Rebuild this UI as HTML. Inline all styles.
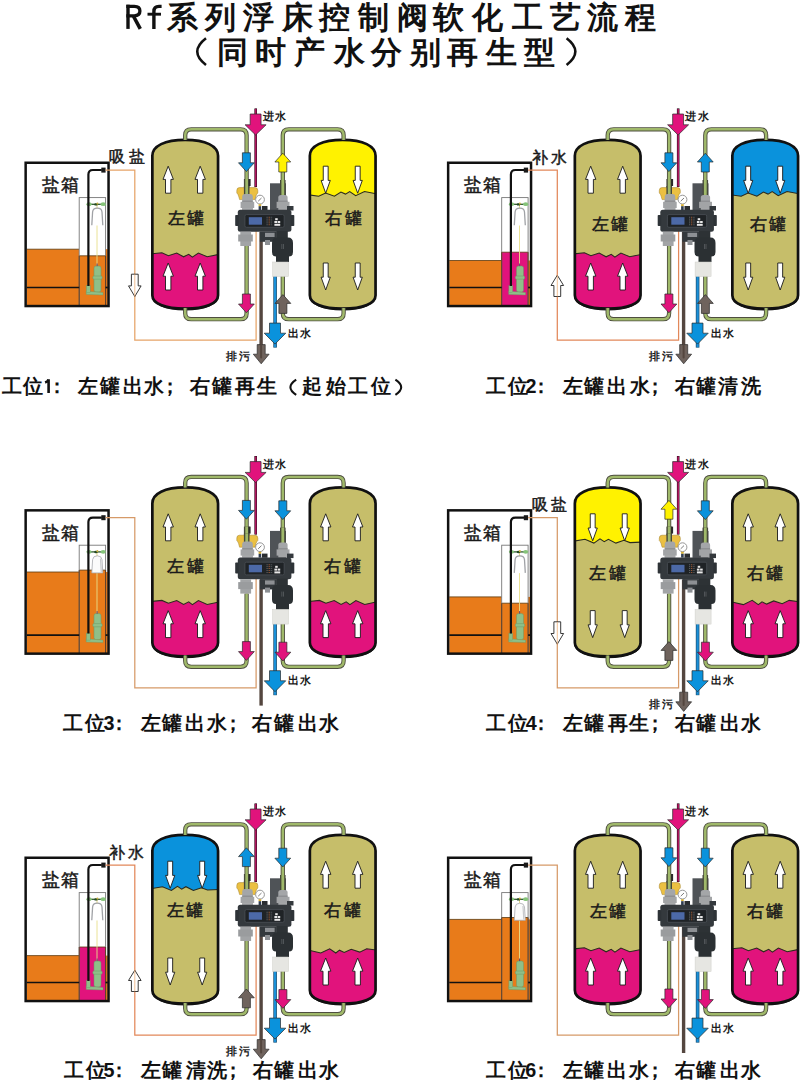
<!DOCTYPE html><html><head><meta charset="utf-8"><style>html,body{margin:0;padding:0;background:#fff;width:800px;height:1080px;overflow:hidden}svg{display:block}</style></head><body><svg width="800" height="1080" viewBox="0 0 800 1080">
<rect width="800" height="1080" fill="#fff"/>
<g fill="none" stroke="#111">
<path d="M128,4.7 V28.9" stroke-width="3.4"/>
<path d="M126.3,6.35 H134.3 Q139.9,6.35 139.9,11.1 Q139.9,15.8 134.3,15.8 H126.3" stroke-width="3.3"/>
<path d="M133.6,16.5 L140.3,28.9" stroke-width="3.6"/>
<path d="M153.9,28.9 V11.5 Q153.9,6.4 159,6.4 H161.6" stroke-width="3.4"/>
<path d="M147.5,14.2 H161" stroke-width="2.9"/>
</g>
<text x="166.66 204.78 242.66 281.56 319.37 358.12 397.30 433.46 472.46 512.00 549.75 587.25 625.12" y="27.8" style="font-family:'Liberation Sans',sans-serif;font-size:31px;font-weight:bold" fill="#111" >系列浮床控制阀软化工艺流程</text>
<text x="216.58 254.70 293.90 333.62 371.46 409.62 447.00 485.62 523.75" y="62.8" style="font-family:'Liberation Sans',sans-serif;font-size:31px;font-weight:bold" fill="#111" >同时产水分别再生型</text>
<path d="M206,38.2 Q188.5,51.6 206,65" fill="none" stroke="#111" stroke-width="2.6"/>
<path d="M566.6,38.2 Q584.1,51.6 566.6,65" fill="none" stroke="#111" stroke-width="2.6"/>
<g transform="translate(0,0)">
<rect x="26.8" y="163.9" width="80.6" height="141.9" fill="#fff"/>
<rect x="26.8" y="249.2" width="52.2" height="56.60000000000002" fill="#e87b1a"/>
<rect x="105.6" y="249.2" width="2.2" height="56.60000000000002" fill="#e87b1a"/>
<rect x="79.2" y="255.8" width="26.4" height="50.0" fill="#e87b1a"/>
<line x1="26.8" y1="249.2" x2="79" y2="249.2" stroke="#5a3a10" stroke-width="0.8"/>
<line x1="79.2" y1="255.8" x2="105.6" y2="255.8" stroke="#5a3a10" stroke-width="0.8"/>
<rect x="79.2" y="197.6" width="26.4" height="108.2" fill="none" stroke="#777" stroke-width="0.9"/>
<path d="M79.2,255.8 V305.8 M105.6,255.8 V305.8" stroke="#5a3418" stroke-width="0.9"/>
<line x1="26.8" y1="287.5" x2="79.2" y2="287.5" stroke="#111" stroke-width="1.7"/>
<line x1="105.6" y1="287.5" x2="107.8" y2="287.5" stroke="#111" stroke-width="1.7"/>
<line x1="97" y1="205" x2="97" y2="208.6" stroke="#e0d27a" stroke-width="0.9"/>
<line x1="97" y1="225.5" x2="97" y2="266" stroke="#e8df8a" stroke-width="0.9"/>
<path d="M91.8,225.3 L92.6,212 Q93,208.2 97.3,208.2 Q101.6,208.2 102,212 L102.8,225.3" fill="none" stroke="#a0a2a6" stroke-width="1.3"/>
<line x1="88" y1="204.3" x2="104.5" y2="204.3" stroke="#2f5a2c" stroke-width="1.3"/>
<ellipse cx="89.0" cy="204.2" rx="2.6" ry="1.9" fill="#86c47a"/>
<ellipse cx="103.2" cy="204.2" rx="2.6" ry="1.9" fill="#86c47a"/>
<ellipse cx="96" cy="204.4" rx="1.8" ry="1.2" fill="#244a22"/>
<ellipse cx="97.4" cy="203.6" rx="1" ry="1.1" fill="#c8b040"/>
<rect x="94" y="266" width="7" height="26" rx="2" fill="#8fbf88" stroke="#6a9a66" stroke-width="0.5"/>
<rect x="92.8" y="276" width="9.4" height="3.2" rx="1.2" fill="#8fbf88" stroke="#6a9a66" stroke-width="0.5"/>
<polygon points="86.2,291.2 103,292.5 103,295 86.2,294.4" fill="#8fbf88" stroke="#6a9a66" stroke-width="0.4"/>
<rect x="86.4" y="285.5" width="3.8" height="7" fill="#8fbf88" stroke="#6a9a66" stroke-width="0.4"/>
<rect x="96.6" y="263.5" width="1" height="2.6" fill="#604070"/>
<path d="M88.4,286 V174.5 Q88.4,170 92.9,170 H101.8" fill="none" stroke="#111" stroke-width="2.2"/>
<rect x="101.3" y="167.6" width="4.3" height="5" fill="#1a1a1a"/>
<rect x="25.65" y="162.75" width="82.9" height="143.3" fill="none" stroke="#111" stroke-width="2.5"/>
<text x="41.55 60.90" y="191.2" style="font-family:'Liberation Sans',sans-serif;font-size:17.5px;font-weight:normal" fill="#1a1a1a" stroke="#1a1a1a" stroke-width="0.5">盐箱</text>
<text x="109.28 128.68" y="162.4" style="font-family:'Liberation Sans',sans-serif;font-size:16px;font-weight:normal" fill="#1a1a1a" stroke="#1a1a1a" stroke-width="0.5">吸盐</text>
<path d="M105.6,170 H134.8 V340.2 H256.1 V231" fill="none" stroke="#e6a468" stroke-width="1.25"/>
<polygon points="134.80,296.50 141.10,285.90 138.20,285.90 138.20,274.20 131.40,274.20 131.40,285.90 128.50,285.90" fill="#fff" stroke="#222" stroke-width="0.9"/>
<line x1="134.8" y1="274.5" x2="134.8" y2="296.5" stroke="#eeb07a" stroke-width="0.8"/>
<clipPath id="c0a"><path d="M152.35,155.85 C152.35,145.93 164.83299999999997,139.85 185.2,139.85 C205.567,139.85 218.05,145.93 218.05,155.85 L218.05,295.15 C218.05,303.52 205.567,308.65 185.2,308.65 C164.83299999999997,308.65 152.35,303.52 152.35,295.15 Z"/></clipPath>
<g clip-path="url(#c0a)">
<rect x="149.0" y="134.85" width="72.4" height="178.79999999999998" fill="#e1137c"/>
<polygon points="149.0,134.85 221.4,134.85 221.4,254.30 219.40,254.30 207.20,256.80 198.40,253.00 192.40,257.10 188.70,254.30 183.60,256.80 176.70,253.00 168.40,255.70 161.90,252.80 151.00,253.90 149.0,253.90" fill="#c6be6a"/>
<polyline points="151.00,253.90 161.90,252.80 168.40,255.70 176.70,253.00 183.60,256.80 188.70,254.30 192.40,257.10 198.40,253.00 207.20,256.80 219.40,254.30" fill="none" stroke="#2a2a1e" stroke-width="1.05"/>
</g>
<path d="M152.35,155.85 C152.35,145.93 164.83299999999997,139.85 185.2,139.85 C205.567,139.85 218.05,145.93 218.05,155.85 L218.05,295.15 C218.05,303.52 205.567,308.65 185.2,308.65 C164.83299999999997,308.65 152.35,303.52 152.35,295.15 Z" fill="none" stroke="#111" stroke-width="2.7"/>
<path d="M218.05,295.15 C218.05,303.52 205.567,309.25 185.2,309.25 C164.83299999999997,309.25 152.35,303.52 152.35,295.15" fill="none" stroke="#111" stroke-width="1.2" transform="translate(0,0.7)"/>
<polygon points="168.20,166.20 173.40,179.40 170.90,179.40 170.90,193.20 165.50,193.20 165.50,179.40 163.00,179.40" fill="#fff" stroke="#1a1a1a" stroke-width="0.9" stroke-linejoin="miter"/>
<polygon points="200.20,166.20 205.40,179.40 202.90,179.40 202.90,193.20 197.50,193.20 197.50,179.40 195.00,179.40" fill="#fff" stroke="#1a1a1a" stroke-width="0.9" stroke-linejoin="miter"/>
<polygon points="168.20,263.00 173.40,276.20 170.90,276.20 170.90,290.00 165.50,290.00 165.50,276.20 163.00,276.20" fill="#fff" stroke="#1a1a1a" stroke-width="0.9" stroke-linejoin="miter"/>
<polygon points="200.20,263.00 205.40,276.20 202.90,276.20 202.90,290.00 197.50,290.00 197.50,276.20 195.00,276.20" fill="#fff" stroke="#1a1a1a" stroke-width="0.9" stroke-linejoin="miter"/>
<text x="167.73 187.12" y="224.45" style="font-family:'Liberation Sans',sans-serif;font-size:16.9px;font-weight:normal" fill="#1a1a1a" stroke="#1a1a1a" stroke-width="0.5">左罐</text>
<clipPath id="c0b"><path d="M309.85,155.85 C309.85,145.93 322.333,139.85 342.7,139.85 C363.06699999999995,139.85 375.54999999999995,145.93 375.54999999999995,155.85 L375.54999999999995,295.15 C375.54999999999995,303.52 363.06699999999995,308.65 342.7,308.65 C322.333,308.65 309.85,303.52 309.85,295.15 Z"/></clipPath>
<g clip-path="url(#c0b)">
<rect x="306.5" y="134.85" width="72.39999999999998" height="178.79999999999998" fill="#c6be6a"/>
<polygon points="306.5,134.85 378.9,134.85 378.9,193.90 376.90,193.90 364.50,191.60 355.70,195.70 349.70,191.60 345.50,194.10 340.90,192.00 334.40,196.20 325.60,193.00 318.70,196.20 308.50,194.80 306.5,194.80" fill="#fff200"/>
<polyline points="308.50,194.80 318.70,196.20 325.60,193.00 334.40,196.20 340.90,192.00 345.50,194.10 349.70,191.60 355.70,195.70 364.50,191.60 376.90,193.90" fill="none" stroke="#2a2a1e" stroke-width="1.05"/>
</g>
<path d="M309.85,155.85 C309.85,145.93 322.333,139.85 342.7,139.85 C363.06699999999995,139.85 375.54999999999995,145.93 375.54999999999995,155.85 L375.54999999999995,295.15 C375.54999999999995,303.52 363.06699999999995,308.65 342.7,308.65 C322.333,308.65 309.85,303.52 309.85,295.15 Z" fill="none" stroke="#111" stroke-width="2.7"/>
<path d="M375.54999999999995,295.15 C375.54999999999995,303.52 363.06699999999995,309.25 342.7,309.25 C322.333,309.25 309.85,303.52 309.85,295.15" fill="none" stroke="#111" stroke-width="1.2" transform="translate(0,0.7)"/>
<polygon points="325.70,193.20 330.30,180.40 328.15,180.40 328.15,166.20 323.25,166.20 323.25,180.40 321.10,180.40" fill="#fff" stroke="#1a1a1a" stroke-width="0.9" stroke-linejoin="miter"/>
<polygon points="357.70,193.20 362.30,180.40 360.15,180.40 360.15,166.20 355.25,166.20 355.25,180.40 353.10,180.40" fill="#fff" stroke="#1a1a1a" stroke-width="0.9" stroke-linejoin="miter"/>
<polygon points="325.70,290.00 330.30,277.20 328.15,277.20 328.15,263.00 323.25,263.00 323.25,277.20 321.10,277.20" fill="#fff" stroke="#1a1a1a" stroke-width="0.9" stroke-linejoin="miter"/>
<polygon points="357.70,290.00 362.30,277.20 360.15,277.20 360.15,263.00 355.25,263.00 355.25,277.20 353.10,277.20" fill="#fff" stroke="#1a1a1a" stroke-width="0.9" stroke-linejoin="miter"/>
<text x="325.05 344.52" y="224.45" style="font-family:'Liberation Sans',sans-serif;font-size:16.9px;font-weight:normal" fill="#1a1a1a" stroke="#1a1a1a" stroke-width="0.5">右罐</text>
<path d="M185.2,140 V135.3 Q185.2,129.3 191.2,129.3 H240.6 Q246.6,129.3 246.6,135.3 V194" fill="none" stroke="#4e4e40" stroke-width="4.3" stroke-linejoin="round"/>
<path d="M185.2,140 V135.3 Q185.2,129.3 191.2,129.3 H240.6 Q246.6,129.3 246.6,135.3 V194" fill="none" stroke="#a0b96a" stroke-width="2.5" stroke-linejoin="round"/>
<path d="M343.6,140 V135.3 Q343.6,129.3 337.6,129.3 H288.8 Q282.8,129.3 282.8,135.3 V196" fill="none" stroke="#4e4e40" stroke-width="4.3" stroke-linejoin="round"/>
<path d="M343.6,140 V135.3 Q343.6,129.3 337.6,129.3 H288.8 Q282.8,129.3 282.8,135.3 V196" fill="none" stroke="#a0b96a" stroke-width="2.5" stroke-linejoin="round"/>
<path d="M185.2,308 V313.2 Q185.2,319.2 191.2,319.2 H240.6 Q246.6,319.2 246.6,313.2 V246" fill="none" stroke="#4e4e40" stroke-width="4.3" stroke-linejoin="round"/>
<path d="M185.2,308 V313.2 Q185.2,319.2 191.2,319.2 H240.6 Q246.6,319.2 246.6,313.2 V246" fill="none" stroke="#a0b96a" stroke-width="2.5" stroke-linejoin="round"/>
<path d="M343.6,308 V313.2 Q343.6,319.2 337.6,319.2 H288.8 Q282.8,319.2 282.8,313.2 V276" fill="none" stroke="#4e4e40" stroke-width="4.3" stroke-linejoin="round"/>
<path d="M343.6,308 V313.2 Q343.6,319.2 337.6,319.2 H288.8 Q282.8,319.2 282.8,313.2 V276" fill="none" stroke="#a0b96a" stroke-width="2.5" stroke-linejoin="round"/>
<line x1="255.7" y1="108.4" x2="255.7" y2="187" stroke="#2a0a1a" stroke-width="2.6"/>
<line x1="255.7" y1="108.9" x2="255.7" y2="186.5" stroke="#b0175f" stroke-width="1.6"/>
<polygon points="255.60,135.00 266.10,124.80 261.05,124.80 261.05,114.00 250.15,114.00 250.15,124.80 245.10,124.80" fill="#e1137c" stroke="#2a2a2a" stroke-width="0.7"/>
<text x="262.56 275.22" y="120.3" style="font-family:'Liberation Sans',sans-serif;font-size:11px;font-weight:bold" fill="#1a1a1a" >进水</text>
<line x1="261.1" y1="232" x2="261.1" y2="345" stroke="#54463f" stroke-width="3.4"/>
<line x1="275.1" y1="276" x2="275.1" y2="347.6" stroke="#1d4f70" stroke-width="3.6"/>
<line x1="275.1" y1="276" x2="275.1" y2="347.2" stroke="#1a90d8" stroke-width="2.2"/>
<rect x="243.9" y="179" width="5.6" height="15" fill="#46483a"/>
<rect x="245.3" y="179" width="2.8" height="15" fill="#a0b96a"/>
<rect x="248.6" y="179" width="2" height="7" fill="#2a2a2a"/>
<rect x="270" y="183.3" width="16" height="27" fill="#4f5357"/>
<rect x="280" y="180" width="5.6" height="16" fill="#46483a"/>
<rect x="281.4" y="180" width="2.8" height="16" fill="#a0b96a"/>
<path d="M236.8,190.5 Q236.8,187.6 239.5,187.6 H255 Q257.8,187.6 257.8,190.5 V193 Q256.5,194 256,196 L255,199.6 H239.6 L238.6,196 Q238,194 236.8,193 Z" fill="#ebc042" stroke="#a07e28" stroke-width="0.5"/>
<rect x="243.9" y="186" width="5.6" height="9" fill="#46483a"/>
<rect x="245.3" y="186" width="2.8" height="9" fill="#a0b96a"/>
<path d="M242.2,210 V197 Q242.2,194 245,194 H250 Q252.8,194 252.8,197 V210 Z" fill="#a4a6a8"/>
<rect x="240.6" y="201.8" width="13.6" height="6.2" fill="#a2a4a6"/>
<rect x="242.2" y="200.6" width="10.6" height="1.2" fill="#8a8c8e"/>
<rect x="242.2" y="208" width="10.6" height="2" fill="#a8aaac"/>
<path d="M278.3,210 V197.5 Q278.3,195 281,195 H285 Q287.6,195 287.6,197.5 V210 Z" fill="#a4a6a8"/>
<rect x="276.6" y="201.8" width="12.9" height="6.2" fill="#a2a4a6"/>
<rect x="278.3" y="200.6" width="9.3" height="1.2" fill="#8a8c8e"/>
<circle cx="260" cy="199.6" r="4.4" fill="#fff" stroke="#8a8a8a" stroke-width="0.9"/>
<line x1="258.2" y1="201.2" x2="261.5" y2="198" stroke="#444" stroke-width="0.7"/>
<rect x="258.6" y="204.2" width="2.6" height="2" fill="#d8b030"/>
<rect x="258.6" y="206.2" width="2.6" height="3.8" fill="#2f3c50"/>
<rect x="262" y="206" width="5.5" height="4.2" fill="#2a2d30"/>
<rect x="287" y="206" width="6.5" height="4.5" fill="#34393d"/>
<rect x="237.8" y="209.8" width="53.6" height="21.9" rx="2.5" fill="#34393d"/>
<rect x="235.2" y="215" width="3.5" height="11" rx="0.8" fill="#2e3337"/>
<rect x="290.6" y="215" width="3.7" height="11" rx="0.8" fill="#2e3337"/>
<rect x="244.9" y="214.6" width="39.3" height="12.7" rx="1.5" fill="#1f2326" stroke="#474d52" stroke-width="0.9"/>
<rect x="248.8" y="217.2" width="13.2" height="7.5" fill="#4c69a7"/>
<rect x="266.5" y="216.80" width="1.2" height="0.8" fill="#6a6e72"/>
<rect x="268.6" y="216.80" width="1.2" height="0.8" fill="#c06a3a"/>
<rect x="270.6" y="216.80" width="1.6" height="0.8" fill="#5a5e62"/>
<rect x="266.5" y="218.70" width="1.2" height="0.8" fill="#6a6e72"/>
<rect x="268.6" y="218.70" width="1.2" height="0.8" fill="#c06a3a"/>
<rect x="270.6" y="218.70" width="1.6" height="0.8" fill="#5a5e62"/>
<rect x="266.5" y="220.60" width="1.2" height="0.8" fill="#6a6e72"/>
<rect x="268.6" y="220.60" width="1.2" height="0.8" fill="#c06a3a"/>
<rect x="270.6" y="220.60" width="1.6" height="0.8" fill="#5a5e62"/>
<rect x="266.5" y="222.50" width="1.2" height="0.8" fill="#6a6e72"/>
<rect x="268.6" y="222.50" width="1.2" height="0.8" fill="#c06a3a"/>
<rect x="270.6" y="222.50" width="1.6" height="0.8" fill="#5a5e62"/>
<rect x="266.5" y="224.40" width="1.2" height="0.8" fill="#6a6e72"/>
<rect x="268.6" y="224.40" width="1.2" height="0.8" fill="#c06a3a"/>
<rect x="270.6" y="224.40" width="1.6" height="0.8" fill="#5a5e62"/>
<rect x="275.2" y="218.2" width="2.5" height="2" fill="#e8e8e8"/>
<rect x="274.4" y="221" width="2.6" height="2" fill="#e8e8e8"/>
<rect x="277.6" y="221" width="2.6" height="2" fill="#e8e8e8"/>
<rect x="274.4" y="223.8" width="5.8" height="2" fill="#e8e8e8"/>
<rect x="240.3" y="231.7" width="10.8" height="14.3" fill="#a2a4a6"/>
<rect x="238.2" y="234.5" width="14.6" height="7" fill="#9a9c9e"/>
<rect x="259.9" y="231.5" width="17" height="10.3" fill="#33383c"/>
<rect x="276.5" y="231" width="11.3" height="8" fill="#2d3235"/>
<rect x="265" y="232.8" width="9.6" height="4.2" fill="#8d9094"/>
<rect x="265" y="240" width="5" height="5" fill="#8d9094"/>
<path d="M272,243 Q272,237.5 277,237.5 H288 Q293,237.5 293,243 V252 Q293,256.5 289,256.5 V262 H276 V256.5 Q272,256.5 272,252 Z" fill="#2b3033"/>
<rect x="281.6" y="244" width="0.6" height="5" fill="#6a6e72"/>
<rect x="283.2" y="244" width="0.6" height="5" fill="#6a6e72"/>
<rect x="272.6" y="262" width="16" height="14.5" fill="#e6e6e2" stroke="#cfcfca" stroke-width="0.5"/>
<polygon points="246.40,171.60 254.30,162.80 250.40,162.80 250.40,152.80 242.40,152.80 242.40,162.80 238.50,162.80" fill="#0a92dc" stroke="#2a2a2a" stroke-width="0.7"/>
<polygon points="282.80,153.20 290.70,162.00 286.80,162.00 286.80,172.00 278.80,172.00 278.80,162.00 274.90,162.00" fill="#fff200" stroke="#2a2a2a" stroke-width="0.7"/>
<polygon points="246.40,312.80 254.30,304.00 250.40,304.00 250.40,294.00 242.40,294.00 242.40,304.00 238.50,304.00" fill="#e1137c" stroke="#2a2a2a" stroke-width="0.7"/>
<polygon points="282.90,294.60 290.80,303.40 286.90,303.40 286.90,313.40 278.90,313.40 278.90,303.40 275.00,303.40" fill="#6f635d" stroke="#2a2a2a" stroke-width="0.7"/>
<polygon points="275.00,344.10 285.75,333.20 280.50,333.20 280.50,323.10 269.50,323.10 269.50,333.20 264.25,333.20" fill="#0a92dc" stroke="#2a2a2a" stroke-width="0.7"/>
<text x="288.11 300.22" y="336.9" style="font-family:'Liberation Sans',sans-serif;font-size:11px;font-weight:bold" fill="#1a1a1a" >出水</text>
<polygon points="261.20,363.80 269.10,354.20 265.20,354.20 265.20,344.60 257.20,344.60 257.20,354.20 253.30,354.20" fill="#6f635d" stroke="#2a2a2a" stroke-width="0.7"/>
<line x1="261.1" y1="345" x2="261.1" y2="357.5" stroke="#54463f" stroke-width="2" stroke-linecap="round"/>
<text x="226.28 239.06" y="360.0" style="font-family:'Liberation Sans',sans-serif;font-size:11px;font-weight:bold" fill="#1a1a1a" >排污</text>
</g>
<g transform="translate(422.5,0)">
<rect x="26.8" y="163.9" width="80.6" height="141.9" fill="#fff"/>
<rect x="26.8" y="260.5" width="52.2" height="45.30000000000001" fill="#e87b1a"/>
<rect x="105.6" y="260.5" width="2.2" height="45.30000000000001" fill="#e87b1a"/>
<rect x="79.2" y="252.2" width="26.4" height="53.60000000000002" fill="#e1137c"/>
<line x1="26.8" y1="260.5" x2="79" y2="260.5" stroke="#5a3a10" stroke-width="0.8"/>
<line x1="79.2" y1="252.2" x2="105.6" y2="252.2" stroke="#5a3a10" stroke-width="0.8"/>
<rect x="79.2" y="197.6" width="26.4" height="108.2" fill="none" stroke="#777" stroke-width="0.9"/>
<path d="M79.2,252.2 V305.8 M105.6,252.2 V305.8" stroke="#5a3418" stroke-width="0.9"/>
<line x1="26.8" y1="287.5" x2="79.2" y2="287.5" stroke="#111" stroke-width="1.7"/>
<line x1="105.6" y1="287.5" x2="107.8" y2="287.5" stroke="#111" stroke-width="1.7"/>
<line x1="97" y1="205" x2="97" y2="208.6" stroke="#e0d27a" stroke-width="0.9"/>
<line x1="97" y1="225.5" x2="97" y2="266" stroke="#e8df8a" stroke-width="0.9"/>
<path d="M91.8,225.3 L92.6,212 Q93,208.2 97.3,208.2 Q101.6,208.2 102,212 L102.8,225.3" fill="none" stroke="#a0a2a6" stroke-width="1.3"/>
<line x1="88" y1="204.3" x2="104.5" y2="204.3" stroke="#2f5a2c" stroke-width="1.3"/>
<ellipse cx="89.0" cy="204.2" rx="2.6" ry="1.9" fill="#86c47a"/>
<ellipse cx="103.2" cy="204.2" rx="2.6" ry="1.9" fill="#86c47a"/>
<ellipse cx="96" cy="204.4" rx="1.8" ry="1.2" fill="#244a22"/>
<ellipse cx="97.4" cy="203.6" rx="1" ry="1.1" fill="#c8b040"/>
<rect x="94" y="266" width="7" height="26" rx="2" fill="#8fbf88" stroke="#6a9a66" stroke-width="0.5"/>
<rect x="92.8" y="276" width="9.4" height="3.2" rx="1.2" fill="#8fbf88" stroke="#6a9a66" stroke-width="0.5"/>
<polygon points="86.2,291.2 103,292.5 103,295 86.2,294.4" fill="#8fbf88" stroke="#6a9a66" stroke-width="0.4"/>
<rect x="86.4" y="285.5" width="3.8" height="7" fill="#8fbf88" stroke="#6a9a66" stroke-width="0.4"/>
<rect x="96.6" y="263.5" width="1" height="2.6" fill="#604070"/>
<path d="M88.4,286 V174.5 Q88.4,170 92.9,170 H101.8" fill="none" stroke="#111" stroke-width="2.2"/>
<rect x="101.3" y="167.6" width="4.3" height="5" fill="#1a1a1a"/>
<rect x="25.65" y="162.75" width="82.9" height="143.3" fill="none" stroke="#111" stroke-width="2.5"/>
<text x="41.55 60.90" y="191.2" style="font-family:'Liberation Sans',sans-serif;font-size:17.5px;font-weight:normal" fill="#1a1a1a" stroke="#1a1a1a" stroke-width="0.5">盐箱</text>
<text x="109.46 128.26" y="162.8" style="font-family:'Liberation Sans',sans-serif;font-size:16px;font-weight:normal" fill="#1a1a1a" stroke="#1a1a1a" stroke-width="0.5">补水</text>
<path d="M105.6,170 H134.8 V340.2 H256.1 V231" fill="none" stroke="#e2885a" stroke-width="1.25"/>
<polygon points="134.80,275.20 141.10,285.50 138.20,285.50 138.20,296.50 131.40,296.50 131.40,285.50 128.50,285.50" fill="#fff" stroke="#222" stroke-width="0.9"/>
<line x1="134.8" y1="274.5" x2="134.8" y2="296.5" stroke="#eeb07a" stroke-width="0.8"/>
<clipPath id="c1a"><path d="M152.35,155.85 C152.35,145.93 164.83299999999997,139.85 185.2,139.85 C205.567,139.85 218.05,145.93 218.05,155.85 L218.05,295.15 C218.05,303.52 205.567,308.65 185.2,308.65 C164.83299999999997,308.65 152.35,303.52 152.35,295.15 Z"/></clipPath>
<g clip-path="url(#c1a)">
<rect x="149.0" y="134.85" width="72.4" height="178.79999999999998" fill="#e1137c"/>
<polygon points="149.0,134.85 221.4,134.85 221.4,254.30 219.40,254.30 207.20,256.80 198.40,253.00 192.40,257.10 188.70,254.30 183.60,256.80 176.70,253.00 168.40,255.70 161.90,252.80 151.00,253.90 149.0,253.90" fill="#c6be6a"/>
<polyline points="151.00,253.90 161.90,252.80 168.40,255.70 176.70,253.00 183.60,256.80 188.70,254.30 192.40,257.10 198.40,253.00 207.20,256.80 219.40,254.30" fill="none" stroke="#2a2a1e" stroke-width="1.05"/>
</g>
<path d="M152.35,155.85 C152.35,145.93 164.83299999999997,139.85 185.2,139.85 C205.567,139.85 218.05,145.93 218.05,155.85 L218.05,295.15 C218.05,303.52 205.567,308.65 185.2,308.65 C164.83299999999997,308.65 152.35,303.52 152.35,295.15 Z" fill="none" stroke="#111" stroke-width="2.7"/>
<path d="M218.05,295.15 C218.05,303.52 205.567,309.25 185.2,309.25 C164.83299999999997,309.25 152.35,303.52 152.35,295.15" fill="none" stroke="#111" stroke-width="1.2" transform="translate(0,0.7)"/>
<polygon points="168.20,166.20 173.40,179.40 170.90,179.40 170.90,193.20 165.50,193.20 165.50,179.40 163.00,179.40" fill="#fff" stroke="#1a1a1a" stroke-width="0.9" stroke-linejoin="miter"/>
<polygon points="200.20,166.20 205.40,179.40 202.90,179.40 202.90,193.20 197.50,193.20 197.50,179.40 195.00,179.40" fill="#fff" stroke="#1a1a1a" stroke-width="0.9" stroke-linejoin="miter"/>
<polygon points="168.20,263.00 173.40,276.20 170.90,276.20 170.90,290.00 165.50,290.00 165.50,276.20 163.00,276.20" fill="#fff" stroke="#1a1a1a" stroke-width="0.9" stroke-linejoin="miter"/>
<polygon points="200.20,263.00 205.40,276.20 202.90,276.20 202.90,290.00 197.50,290.00 197.50,276.20 195.00,276.20" fill="#fff" stroke="#1a1a1a" stroke-width="0.9" stroke-linejoin="miter"/>
<text x="169.58 188.97" y="229.7" style="font-family:'Liberation Sans',sans-serif;font-size:16.9px;font-weight:normal" fill="#1a1a1a" stroke="#1a1a1a" stroke-width="0.5">左罐</text>
<clipPath id="c1b"><path d="M309.85,155.85 C309.85,145.93 322.333,139.85 342.7,139.85 C363.06699999999995,139.85 375.54999999999995,145.93 375.54999999999995,155.85 L375.54999999999995,295.15 C375.54999999999995,303.52 363.06699999999995,308.65 342.7,308.65 C322.333,308.65 309.85,303.52 309.85,295.15 Z"/></clipPath>
<g clip-path="url(#c1b)">
<rect x="306.5" y="134.85" width="72.39999999999998" height="178.79999999999998" fill="#c6be6a"/>
<polygon points="306.5,134.85 378.9,134.85 378.9,193.90 376.90,193.90 364.50,191.60 355.70,195.70 349.70,191.60 345.50,194.10 340.90,192.00 334.40,196.20 325.60,193.00 318.70,196.20 308.50,194.80 306.5,194.80" fill="#0a92dc"/>
<polyline points="308.50,194.80 318.70,196.20 325.60,193.00 334.40,196.20 340.90,192.00 345.50,194.10 349.70,191.60 355.70,195.70 364.50,191.60 376.90,193.90" fill="none" stroke="#2a2a1e" stroke-width="1.05"/>
</g>
<path d="M309.85,155.85 C309.85,145.93 322.333,139.85 342.7,139.85 C363.06699999999995,139.85 375.54999999999995,145.93 375.54999999999995,155.85 L375.54999999999995,295.15 C375.54999999999995,303.52 363.06699999999995,308.65 342.7,308.65 C322.333,308.65 309.85,303.52 309.85,295.15 Z" fill="none" stroke="#111" stroke-width="2.7"/>
<path d="M375.54999999999995,295.15 C375.54999999999995,303.52 363.06699999999995,309.25 342.7,309.25 C322.333,309.25 309.85,303.52 309.85,295.15" fill="none" stroke="#111" stroke-width="1.2" transform="translate(0,0.7)"/>
<polygon points="325.70,193.20 330.30,180.40 328.15,180.40 328.15,166.20 323.25,166.20 323.25,180.40 321.10,180.40" fill="#fff" stroke="#1a1a1a" stroke-width="0.9" stroke-linejoin="miter"/>
<polygon points="357.70,193.20 362.30,180.40 360.15,180.40 360.15,166.20 355.25,166.20 355.25,180.40 353.10,180.40" fill="#fff" stroke="#1a1a1a" stroke-width="0.9" stroke-linejoin="miter"/>
<polygon points="325.70,290.00 330.30,277.20 328.15,277.20 328.15,263.00 323.25,263.00 323.25,277.20 321.10,277.20" fill="#fff" stroke="#1a1a1a" stroke-width="0.9" stroke-linejoin="miter"/>
<polygon points="357.70,290.00 362.30,277.20 360.15,277.20 360.15,263.00 355.25,263.00 355.25,277.20 353.10,277.20" fill="#fff" stroke="#1a1a1a" stroke-width="0.9" stroke-linejoin="miter"/>
<text x="327.00 346.47" y="229.7" style="font-family:'Liberation Sans',sans-serif;font-size:16.9px;font-weight:normal" fill="#1a1a1a" stroke="#1a1a1a" stroke-width="0.5">右罐</text>
<path d="M185.2,140 V135.3 Q185.2,129.3 191.2,129.3 H240.6 Q246.6,129.3 246.6,135.3 V194" fill="none" stroke="#4e4e40" stroke-width="4.3" stroke-linejoin="round"/>
<path d="M185.2,140 V135.3 Q185.2,129.3 191.2,129.3 H240.6 Q246.6,129.3 246.6,135.3 V194" fill="none" stroke="#a0b96a" stroke-width="2.5" stroke-linejoin="round"/>
<path d="M343.6,140 V135.3 Q343.6,129.3 337.6,129.3 H288.8 Q282.8,129.3 282.8,135.3 V196" fill="none" stroke="#4e4e40" stroke-width="4.3" stroke-linejoin="round"/>
<path d="M343.6,140 V135.3 Q343.6,129.3 337.6,129.3 H288.8 Q282.8,129.3 282.8,135.3 V196" fill="none" stroke="#a0b96a" stroke-width="2.5" stroke-linejoin="round"/>
<path d="M185.2,308 V313.2 Q185.2,319.2 191.2,319.2 H240.6 Q246.6,319.2 246.6,313.2 V246" fill="none" stroke="#4e4e40" stroke-width="4.3" stroke-linejoin="round"/>
<path d="M185.2,308 V313.2 Q185.2,319.2 191.2,319.2 H240.6 Q246.6,319.2 246.6,313.2 V246" fill="none" stroke="#a0b96a" stroke-width="2.5" stroke-linejoin="round"/>
<path d="M343.6,308 V313.2 Q343.6,319.2 337.6,319.2 H288.8 Q282.8,319.2 282.8,313.2 V276" fill="none" stroke="#4e4e40" stroke-width="4.3" stroke-linejoin="round"/>
<path d="M343.6,308 V313.2 Q343.6,319.2 337.6,319.2 H288.8 Q282.8,319.2 282.8,313.2 V276" fill="none" stroke="#a0b96a" stroke-width="2.5" stroke-linejoin="round"/>
<line x1="255.7" y1="108.4" x2="255.7" y2="187" stroke="#2a0a1a" stroke-width="2.6"/>
<line x1="255.7" y1="108.9" x2="255.7" y2="186.5" stroke="#b0175f" stroke-width="1.6"/>
<polygon points="255.60,135.00 266.10,124.80 261.05,124.80 261.05,114.00 250.15,114.00 250.15,124.80 245.10,124.80" fill="#e1137c" stroke="#2a2a2a" stroke-width="0.7"/>
<text x="262.56 275.22" y="120.3" style="font-family:'Liberation Sans',sans-serif;font-size:11px;font-weight:bold" fill="#1a1a1a" >进水</text>
<line x1="261.1" y1="232" x2="261.1" y2="345" stroke="#54463f" stroke-width="3.4"/>
<line x1="275.1" y1="276" x2="275.1" y2="347.6" stroke="#1d4f70" stroke-width="3.6"/>
<line x1="275.1" y1="276" x2="275.1" y2="347.2" stroke="#1a90d8" stroke-width="2.2"/>
<rect x="243.9" y="179" width="5.6" height="15" fill="#46483a"/>
<rect x="245.3" y="179" width="2.8" height="15" fill="#a0b96a"/>
<rect x="248.6" y="179" width="2" height="7" fill="#2a2a2a"/>
<rect x="270" y="183.3" width="16" height="27" fill="#4f5357"/>
<rect x="280" y="180" width="5.6" height="16" fill="#46483a"/>
<rect x="281.4" y="180" width="2.8" height="16" fill="#a0b96a"/>
<path d="M236.8,190.5 Q236.8,187.6 239.5,187.6 H255 Q257.8,187.6 257.8,190.5 V193 Q256.5,194 256,196 L255,199.6 H239.6 L238.6,196 Q238,194 236.8,193 Z" fill="#ebc042" stroke="#a07e28" stroke-width="0.5"/>
<rect x="243.9" y="186" width="5.6" height="9" fill="#46483a"/>
<rect x="245.3" y="186" width="2.8" height="9" fill="#a0b96a"/>
<path d="M242.2,210 V197 Q242.2,194 245,194 H250 Q252.8,194 252.8,197 V210 Z" fill="#a4a6a8"/>
<rect x="240.6" y="201.8" width="13.6" height="6.2" fill="#a2a4a6"/>
<rect x="242.2" y="200.6" width="10.6" height="1.2" fill="#8a8c8e"/>
<rect x="242.2" y="208" width="10.6" height="2" fill="#a8aaac"/>
<path d="M278.3,210 V197.5 Q278.3,195 281,195 H285 Q287.6,195 287.6,197.5 V210 Z" fill="#a4a6a8"/>
<rect x="276.6" y="201.8" width="12.9" height="6.2" fill="#a2a4a6"/>
<rect x="278.3" y="200.6" width="9.3" height="1.2" fill="#8a8c8e"/>
<circle cx="260" cy="199.6" r="4.4" fill="#fff" stroke="#8a8a8a" stroke-width="0.9"/>
<line x1="258.2" y1="201.2" x2="261.5" y2="198" stroke="#444" stroke-width="0.7"/>
<rect x="258.6" y="204.2" width="2.6" height="2" fill="#d8b030"/>
<rect x="258.6" y="206.2" width="2.6" height="3.8" fill="#2f3c50"/>
<rect x="262" y="206" width="5.5" height="4.2" fill="#2a2d30"/>
<rect x="287" y="206" width="6.5" height="4.5" fill="#34393d"/>
<rect x="237.8" y="209.8" width="53.6" height="21.9" rx="2.5" fill="#34393d"/>
<rect x="235.2" y="215" width="3.5" height="11" rx="0.8" fill="#2e3337"/>
<rect x="290.6" y="215" width="3.7" height="11" rx="0.8" fill="#2e3337"/>
<rect x="244.9" y="214.6" width="39.3" height="12.7" rx="1.5" fill="#1f2326" stroke="#474d52" stroke-width="0.9"/>
<rect x="248.8" y="217.2" width="13.2" height="7.5" fill="#4c69a7"/>
<rect x="266.5" y="216.80" width="1.2" height="0.8" fill="#6a6e72"/>
<rect x="268.6" y="216.80" width="1.2" height="0.8" fill="#c06a3a"/>
<rect x="270.6" y="216.80" width="1.6" height="0.8" fill="#5a5e62"/>
<rect x="266.5" y="218.70" width="1.2" height="0.8" fill="#6a6e72"/>
<rect x="268.6" y="218.70" width="1.2" height="0.8" fill="#c06a3a"/>
<rect x="270.6" y="218.70" width="1.6" height="0.8" fill="#5a5e62"/>
<rect x="266.5" y="220.60" width="1.2" height="0.8" fill="#6a6e72"/>
<rect x="268.6" y="220.60" width="1.2" height="0.8" fill="#c06a3a"/>
<rect x="270.6" y="220.60" width="1.6" height="0.8" fill="#5a5e62"/>
<rect x="266.5" y="222.50" width="1.2" height="0.8" fill="#6a6e72"/>
<rect x="268.6" y="222.50" width="1.2" height="0.8" fill="#c06a3a"/>
<rect x="270.6" y="222.50" width="1.6" height="0.8" fill="#5a5e62"/>
<rect x="266.5" y="224.40" width="1.2" height="0.8" fill="#6a6e72"/>
<rect x="268.6" y="224.40" width="1.2" height="0.8" fill="#c06a3a"/>
<rect x="270.6" y="224.40" width="1.6" height="0.8" fill="#5a5e62"/>
<rect x="275.2" y="218.2" width="2.5" height="2" fill="#e8e8e8"/>
<rect x="274.4" y="221" width="2.6" height="2" fill="#e8e8e8"/>
<rect x="277.6" y="221" width="2.6" height="2" fill="#e8e8e8"/>
<rect x="274.4" y="223.8" width="5.8" height="2" fill="#e8e8e8"/>
<rect x="240.3" y="231.7" width="10.8" height="14.3" fill="#a2a4a6"/>
<rect x="238.2" y="234.5" width="14.6" height="7" fill="#9a9c9e"/>
<rect x="259.9" y="231.5" width="17" height="10.3" fill="#33383c"/>
<rect x="276.5" y="231" width="11.3" height="8" fill="#2d3235"/>
<rect x="265" y="232.8" width="9.6" height="4.2" fill="#8d9094"/>
<rect x="265" y="240" width="5" height="5" fill="#8d9094"/>
<path d="M272,243 Q272,237.5 277,237.5 H288 Q293,237.5 293,243 V252 Q293,256.5 289,256.5 V262 H276 V256.5 Q272,256.5 272,252 Z" fill="#2b3033"/>
<rect x="281.6" y="244" width="0.6" height="5" fill="#6a6e72"/>
<rect x="283.2" y="244" width="0.6" height="5" fill="#6a6e72"/>
<rect x="272.6" y="262" width="16" height="14.5" fill="#e6e6e2" stroke="#cfcfca" stroke-width="0.5"/>
<polygon points="246.40,171.60 254.30,162.80 250.40,162.80 250.40,152.80 242.40,152.80 242.40,162.80 238.50,162.80" fill="#0a92dc" stroke="#2a2a2a" stroke-width="0.7"/>
<polygon points="282.80,153.20 290.70,162.00 286.80,162.00 286.80,172.00 278.80,172.00 278.80,162.00 274.90,162.00" fill="#0a92dc" stroke="#2a2a2a" stroke-width="0.7"/>
<polygon points="246.40,312.80 254.30,304.00 250.40,304.00 250.40,294.00 242.40,294.00 242.40,304.00 238.50,304.00" fill="#e1137c" stroke="#2a2a2a" stroke-width="0.7"/>
<polygon points="282.90,294.60 290.80,303.40 286.90,303.40 286.90,313.40 278.90,313.40 278.90,303.40 275.00,303.40" fill="#6f635d" stroke="#2a2a2a" stroke-width="0.7"/>
<polygon points="275.00,344.10 285.75,333.20 280.50,333.20 280.50,323.10 269.50,323.10 269.50,333.20 264.25,333.20" fill="#0a92dc" stroke="#2a2a2a" stroke-width="0.7"/>
<text x="288.11 300.22" y="336.9" style="font-family:'Liberation Sans',sans-serif;font-size:11px;font-weight:bold" fill="#1a1a1a" >出水</text>
<polygon points="261.20,363.80 269.10,354.20 265.20,354.20 265.20,344.60 257.20,344.60 257.20,354.20 253.30,354.20" fill="#6f635d" stroke="#2a2a2a" stroke-width="0.7"/>
<line x1="261.1" y1="345" x2="261.1" y2="357.5" stroke="#54463f" stroke-width="2" stroke-linecap="round"/>
<text x="226.28 239.06" y="360.0" style="font-family:'Liberation Sans',sans-serif;font-size:11px;font-weight:bold" fill="#1a1a1a" >排污</text>
</g>
<g transform="translate(0,347.6)">
<rect x="26.8" y="163.9" width="80.6" height="141.9" fill="#fff"/>
<rect x="26.8" y="224.4" width="52.2" height="81.4" fill="#e87b1a"/>
<rect x="105.6" y="224.4" width="2.2" height="81.4" fill="#e87b1a"/>
<rect x="79.2" y="222.5" width="26.4" height="83.30000000000001" fill="#e87b1a"/>
<line x1="26.8" y1="224.4" x2="79" y2="224.4" stroke="#5a3a10" stroke-width="0.8"/>
<line x1="79.2" y1="222.5" x2="105.6" y2="222.5" stroke="#5a3a10" stroke-width="0.8"/>
<rect x="79.2" y="197.6" width="26.4" height="108.2" fill="none" stroke="#777" stroke-width="0.9"/>
<path d="M79.2,222.5 V305.8 M105.6,222.5 V305.8" stroke="#5a3418" stroke-width="0.9"/>
<line x1="26.8" y1="287.5" x2="79.2" y2="287.5" stroke="#111" stroke-width="1.7"/>
<line x1="105.6" y1="287.5" x2="107.8" y2="287.5" stroke="#111" stroke-width="1.7"/>
<line x1="97" y1="205" x2="97" y2="208.6" stroke="#e0d27a" stroke-width="0.9"/>
<line x1="97" y1="225.5" x2="97" y2="266" stroke="#e8df8a" stroke-width="0.9"/>
<path d="M91.8,225.3 L92.6,212 Q93,208.2 97.3,208.2 Q101.6,208.2 102,212 L102.8,225.3 Z" fill="#fbfbfb" stroke="#a8aaae" stroke-width="0.8"/>
<path d="M100.5,211 L101.3,224.5" stroke="#c8cacd" stroke-width="1.2"/>
<line x1="88" y1="204.3" x2="104.5" y2="204.3" stroke="#2f5a2c" stroke-width="1.3"/>
<ellipse cx="89.0" cy="204.2" rx="2.6" ry="1.9" fill="#86c47a"/>
<ellipse cx="103.2" cy="204.2" rx="2.6" ry="1.9" fill="#86c47a"/>
<ellipse cx="96" cy="204.4" rx="1.8" ry="1.2" fill="#244a22"/>
<ellipse cx="97.4" cy="203.6" rx="1" ry="1.1" fill="#c8b040"/>
<rect x="94" y="266" width="7" height="26" rx="2" fill="#8fbf88" stroke="#6a9a66" stroke-width="0.5"/>
<rect x="92.8" y="276" width="9.4" height="3.2" rx="1.2" fill="#8fbf88" stroke="#6a9a66" stroke-width="0.5"/>
<polygon points="86.2,291.2 103,292.5 103,295 86.2,294.4" fill="#8fbf88" stroke="#6a9a66" stroke-width="0.4"/>
<rect x="86.4" y="285.5" width="3.8" height="7" fill="#8fbf88" stroke="#6a9a66" stroke-width="0.4"/>
<rect x="96.6" y="263.5" width="1" height="2.6" fill="#604070"/>
<path d="M88.4,286 V174.5 Q88.4,170 92.9,170 H101.8" fill="none" stroke="#111" stroke-width="2.2"/>
<rect x="101.3" y="167.6" width="4.3" height="5" fill="#1a1a1a"/>
<rect x="25.65" y="162.75" width="82.9" height="143.3" fill="none" stroke="#111" stroke-width="2.5"/>
<text x="41.55 60.90" y="191.2" style="font-family:'Liberation Sans',sans-serif;font-size:17.5px;font-weight:normal" fill="#1a1a1a" stroke="#1a1a1a" stroke-width="0.5">盐箱</text>
<path d="M105.6,170 H134.8 V340.2 H256.1 V231" fill="none" stroke="#d69a68" stroke-width="1.25"/>
<clipPath id="c2a"><path d="M152.35,155.85 C152.35,145.93 164.83299999999997,139.85 185.2,139.85 C205.567,139.85 218.05,145.93 218.05,155.85 L218.05,295.15 C218.05,303.52 205.567,308.65 185.2,308.65 C164.83299999999997,308.65 152.35,303.52 152.35,295.15 Z"/></clipPath>
<g clip-path="url(#c2a)">
<rect x="149.0" y="134.85" width="72.4" height="178.79999999999998" fill="#e1137c"/>
<polygon points="149.0,134.85 221.4,134.85 221.4,254.30 219.40,254.30 207.20,256.80 198.40,253.00 192.40,257.10 188.70,254.30 183.60,256.80 176.70,253.00 168.40,255.70 161.90,252.80 151.00,253.90 149.0,253.90" fill="#c6be6a"/>
<polyline points="151.00,253.90 161.90,252.80 168.40,255.70 176.70,253.00 183.60,256.80 188.70,254.30 192.40,257.10 198.40,253.00 207.20,256.80 219.40,254.30" fill="none" stroke="#2a2a1e" stroke-width="1.05"/>
</g>
<path d="M152.35,155.85 C152.35,145.93 164.83299999999997,139.85 185.2,139.85 C205.567,139.85 218.05,145.93 218.05,155.85 L218.05,295.15 C218.05,303.52 205.567,308.65 185.2,308.65 C164.83299999999997,308.65 152.35,303.52 152.35,295.15 Z" fill="none" stroke="#111" stroke-width="2.7"/>
<path d="M218.05,295.15 C218.05,303.52 205.567,309.25 185.2,309.25 C164.83299999999997,309.25 152.35,303.52 152.35,295.15" fill="none" stroke="#111" stroke-width="1.2" transform="translate(0,0.7)"/>
<polygon points="168.20,166.20 173.40,179.40 170.90,179.40 170.90,193.20 165.50,193.20 165.50,179.40 163.00,179.40" fill="#fff" stroke="#1a1a1a" stroke-width="0.9" stroke-linejoin="miter"/>
<polygon points="200.20,166.20 205.40,179.40 202.90,179.40 202.90,193.20 197.50,193.20 197.50,179.40 195.00,179.40" fill="#fff" stroke="#1a1a1a" stroke-width="0.9" stroke-linejoin="miter"/>
<polygon points="168.20,263.00 173.40,276.20 170.90,276.20 170.90,290.00 165.50,290.00 165.50,276.20 163.00,276.20" fill="#fff" stroke="#1a1a1a" stroke-width="0.9" stroke-linejoin="miter"/>
<polygon points="200.20,263.00 205.40,276.20 202.90,276.20 202.90,290.00 197.50,290.00 197.50,276.20 195.00,276.20" fill="#fff" stroke="#1a1a1a" stroke-width="0.9" stroke-linejoin="miter"/>
<text x="167.23 186.62" y="224.5" style="font-family:'Liberation Sans',sans-serif;font-size:16.9px;font-weight:normal" fill="#1a1a1a" stroke="#1a1a1a" stroke-width="0.5">左罐</text>
<clipPath id="c2b"><path d="M309.85,155.85 C309.85,145.93 322.333,139.85 342.7,139.85 C363.06699999999995,139.85 375.54999999999995,145.93 375.54999999999995,155.85 L375.54999999999995,295.15 C375.54999999999995,303.52 363.06699999999995,308.65 342.7,308.65 C322.333,308.65 309.85,303.52 309.85,295.15 Z"/></clipPath>
<g clip-path="url(#c2b)">
<rect x="306.5" y="134.85" width="72.39999999999998" height="178.79999999999998" fill="#e1137c"/>
<polygon points="306.5,134.85 378.9,134.85 378.9,254.30 376.90,254.30 364.70,256.80 355.90,253.00 349.90,257.10 346.20,254.30 341.10,256.80 334.20,253.00 325.90,255.70 319.40,252.80 308.50,253.90 306.5,253.90" fill="#c6be6a"/>
<polyline points="308.50,253.90 319.40,252.80 325.90,255.70 334.20,253.00 341.10,256.80 346.20,254.30 349.90,257.10 355.90,253.00 364.70,256.80 376.90,254.30" fill="none" stroke="#2a2a1e" stroke-width="1.05"/>
</g>
<path d="M309.85,155.85 C309.85,145.93 322.333,139.85 342.7,139.85 C363.06699999999995,139.85 375.54999999999995,145.93 375.54999999999995,155.85 L375.54999999999995,295.15 C375.54999999999995,303.52 363.06699999999995,308.65 342.7,308.65 C322.333,308.65 309.85,303.52 309.85,295.15 Z" fill="none" stroke="#111" stroke-width="2.7"/>
<path d="M375.54999999999995,295.15 C375.54999999999995,303.52 363.06699999999995,309.25 342.7,309.25 C322.333,309.25 309.85,303.52 309.85,295.15" fill="none" stroke="#111" stroke-width="1.2" transform="translate(0,0.7)"/>
<polygon points="325.70,166.20 330.90,179.40 328.40,179.40 328.40,193.20 323.00,193.20 323.00,179.40 320.50,179.40" fill="#fff" stroke="#1a1a1a" stroke-width="0.9" stroke-linejoin="miter"/>
<polygon points="357.70,166.20 362.90,179.40 360.40,179.40 360.40,193.20 355.00,193.20 355.00,179.40 352.50,179.40" fill="#fff" stroke="#1a1a1a" stroke-width="0.9" stroke-linejoin="miter"/>
<polygon points="325.70,263.00 330.90,276.20 328.40,276.20 328.40,290.00 323.00,290.00 323.00,276.20 320.50,276.20" fill="#fff" stroke="#1a1a1a" stroke-width="0.9" stroke-linejoin="miter"/>
<polygon points="357.70,263.00 362.90,276.20 360.40,276.20 360.40,290.00 355.00,290.00 355.00,276.20 352.50,276.20" fill="#fff" stroke="#1a1a1a" stroke-width="0.9" stroke-linejoin="miter"/>
<text x="324.15 343.62" y="224.5" style="font-family:'Liberation Sans',sans-serif;font-size:16.9px;font-weight:normal" fill="#1a1a1a" stroke="#1a1a1a" stroke-width="0.5">右罐</text>
<path d="M185.2,140 V135.3 Q185.2,129.3 191.2,129.3 H240.6 Q246.6,129.3 246.6,135.3 V194" fill="none" stroke="#4e4e40" stroke-width="4.3" stroke-linejoin="round"/>
<path d="M185.2,140 V135.3 Q185.2,129.3 191.2,129.3 H240.6 Q246.6,129.3 246.6,135.3 V194" fill="none" stroke="#a0b96a" stroke-width="2.5" stroke-linejoin="round"/>
<path d="M343.6,140 V135.3 Q343.6,129.3 337.6,129.3 H288.8 Q282.8,129.3 282.8,135.3 V196" fill="none" stroke="#4e4e40" stroke-width="4.3" stroke-linejoin="round"/>
<path d="M343.6,140 V135.3 Q343.6,129.3 337.6,129.3 H288.8 Q282.8,129.3 282.8,135.3 V196" fill="none" stroke="#a0b96a" stroke-width="2.5" stroke-linejoin="round"/>
<path d="M185.2,308 V313.2 Q185.2,319.2 191.2,319.2 H240.6 Q246.6,319.2 246.6,313.2 V246" fill="none" stroke="#4e4e40" stroke-width="4.3" stroke-linejoin="round"/>
<path d="M185.2,308 V313.2 Q185.2,319.2 191.2,319.2 H240.6 Q246.6,319.2 246.6,313.2 V246" fill="none" stroke="#a0b96a" stroke-width="2.5" stroke-linejoin="round"/>
<path d="M343.6,308 V313.2 Q343.6,319.2 337.6,319.2 H288.8 Q282.8,319.2 282.8,313.2 V276" fill="none" stroke="#4e4e40" stroke-width="4.3" stroke-linejoin="round"/>
<path d="M343.6,308 V313.2 Q343.6,319.2 337.6,319.2 H288.8 Q282.8,319.2 282.8,313.2 V276" fill="none" stroke="#a0b96a" stroke-width="2.5" stroke-linejoin="round"/>
<line x1="255.7" y1="108.4" x2="255.7" y2="187" stroke="#2a0a1a" stroke-width="2.6"/>
<line x1="255.7" y1="108.9" x2="255.7" y2="186.5" stroke="#b0175f" stroke-width="1.6"/>
<polygon points="255.60,135.00 266.10,124.80 261.05,124.80 261.05,114.00 250.15,114.00 250.15,124.80 245.10,124.80" fill="#e1137c" stroke="#2a2a2a" stroke-width="0.7"/>
<text x="262.56 275.22" y="120.3" style="font-family:'Liberation Sans',sans-serif;font-size:11px;font-weight:bold" fill="#1a1a1a" >进水</text>
<line x1="261.1" y1="232" x2="261.1" y2="358" stroke="#54463f" stroke-width="3.4"/>
<line x1="275.1" y1="276" x2="275.1" y2="347.6" stroke="#1d4f70" stroke-width="3.6"/>
<line x1="275.1" y1="276" x2="275.1" y2="347.2" stroke="#1a90d8" stroke-width="2.2"/>
<rect x="243.9" y="179" width="5.6" height="15" fill="#46483a"/>
<rect x="245.3" y="179" width="2.8" height="15" fill="#a0b96a"/>
<rect x="248.6" y="179" width="2" height="7" fill="#2a2a2a"/>
<rect x="270" y="183.3" width="16" height="27" fill="#4f5357"/>
<rect x="280" y="180" width="5.6" height="16" fill="#46483a"/>
<rect x="281.4" y="180" width="2.8" height="16" fill="#a0b96a"/>
<path d="M236.8,190.5 Q236.8,187.6 239.5,187.6 H255 Q257.8,187.6 257.8,190.5 V193 Q256.5,194 256,196 L255,199.6 H239.6 L238.6,196 Q238,194 236.8,193 Z" fill="#ebc042" stroke="#a07e28" stroke-width="0.5"/>
<rect x="243.9" y="186" width="5.6" height="9" fill="#46483a"/>
<rect x="245.3" y="186" width="2.8" height="9" fill="#a0b96a"/>
<path d="M242.2,210 V197 Q242.2,194 245,194 H250 Q252.8,194 252.8,197 V210 Z" fill="#a4a6a8"/>
<rect x="240.6" y="201.8" width="13.6" height="6.2" fill="#a2a4a6"/>
<rect x="242.2" y="200.6" width="10.6" height="1.2" fill="#8a8c8e"/>
<rect x="242.2" y="208" width="10.6" height="2" fill="#a8aaac"/>
<path d="M278.3,210 V197.5 Q278.3,195 281,195 H285 Q287.6,195 287.6,197.5 V210 Z" fill="#a4a6a8"/>
<rect x="276.6" y="201.8" width="12.9" height="6.2" fill="#a2a4a6"/>
<rect x="278.3" y="200.6" width="9.3" height="1.2" fill="#8a8c8e"/>
<circle cx="260" cy="199.6" r="4.4" fill="#fff" stroke="#8a8a8a" stroke-width="0.9"/>
<line x1="258.2" y1="201.2" x2="261.5" y2="198" stroke="#444" stroke-width="0.7"/>
<rect x="258.6" y="204.2" width="2.6" height="2" fill="#d8b030"/>
<rect x="258.6" y="206.2" width="2.6" height="3.8" fill="#2f3c50"/>
<rect x="262" y="206" width="5.5" height="4.2" fill="#2a2d30"/>
<rect x="287" y="206" width="6.5" height="4.5" fill="#34393d"/>
<rect x="237.8" y="209.8" width="53.6" height="21.9" rx="2.5" fill="#34393d"/>
<rect x="235.2" y="215" width="3.5" height="11" rx="0.8" fill="#2e3337"/>
<rect x="290.6" y="215" width="3.7" height="11" rx="0.8" fill="#2e3337"/>
<rect x="244.9" y="214.6" width="39.3" height="12.7" rx="1.5" fill="#1f2326" stroke="#474d52" stroke-width="0.9"/>
<rect x="248.8" y="217.2" width="13.2" height="7.5" fill="#4c69a7"/>
<rect x="266.5" y="216.80" width="1.2" height="0.8" fill="#6a6e72"/>
<rect x="268.6" y="216.80" width="1.2" height="0.8" fill="#c06a3a"/>
<rect x="270.6" y="216.80" width="1.6" height="0.8" fill="#5a5e62"/>
<rect x="266.5" y="218.70" width="1.2" height="0.8" fill="#6a6e72"/>
<rect x="268.6" y="218.70" width="1.2" height="0.8" fill="#c06a3a"/>
<rect x="270.6" y="218.70" width="1.6" height="0.8" fill="#5a5e62"/>
<rect x="266.5" y="220.60" width="1.2" height="0.8" fill="#6a6e72"/>
<rect x="268.6" y="220.60" width="1.2" height="0.8" fill="#c06a3a"/>
<rect x="270.6" y="220.60" width="1.6" height="0.8" fill="#5a5e62"/>
<rect x="266.5" y="222.50" width="1.2" height="0.8" fill="#6a6e72"/>
<rect x="268.6" y="222.50" width="1.2" height="0.8" fill="#c06a3a"/>
<rect x="270.6" y="222.50" width="1.6" height="0.8" fill="#5a5e62"/>
<rect x="266.5" y="224.40" width="1.2" height="0.8" fill="#6a6e72"/>
<rect x="268.6" y="224.40" width="1.2" height="0.8" fill="#c06a3a"/>
<rect x="270.6" y="224.40" width="1.6" height="0.8" fill="#5a5e62"/>
<rect x="275.2" y="218.2" width="2.5" height="2" fill="#e8e8e8"/>
<rect x="274.4" y="221" width="2.6" height="2" fill="#e8e8e8"/>
<rect x="277.6" y="221" width="2.6" height="2" fill="#e8e8e8"/>
<rect x="274.4" y="223.8" width="5.8" height="2" fill="#e8e8e8"/>
<rect x="240.3" y="231.7" width="10.8" height="14.3" fill="#a2a4a6"/>
<rect x="238.2" y="234.5" width="14.6" height="7" fill="#9a9c9e"/>
<rect x="259.9" y="231.5" width="17" height="10.3" fill="#33383c"/>
<rect x="276.5" y="231" width="11.3" height="8" fill="#2d3235"/>
<rect x="265" y="232.8" width="9.6" height="4.2" fill="#8d9094"/>
<rect x="265" y="240" width="5" height="5" fill="#8d9094"/>
<path d="M272,243 Q272,237.5 277,237.5 H288 Q293,237.5 293,243 V252 Q293,256.5 289,256.5 V262 H276 V256.5 Q272,256.5 272,252 Z" fill="#2b3033"/>
<rect x="281.6" y="244" width="0.6" height="5" fill="#6a6e72"/>
<rect x="283.2" y="244" width="0.6" height="5" fill="#6a6e72"/>
<rect x="272.6" y="262" width="16" height="14.5" fill="#e6e6e2" stroke="#cfcfca" stroke-width="0.5"/>
<polygon points="246.40,171.60 254.30,162.80 250.40,162.80 250.40,152.80 242.40,152.80 242.40,162.80 238.50,162.80" fill="#0a92dc" stroke="#2a2a2a" stroke-width="0.7"/>
<polygon points="282.80,172.00 290.70,163.20 286.80,163.20 286.80,153.20 278.80,153.20 278.80,163.20 274.90,163.20" fill="#0a92dc" stroke="#2a2a2a" stroke-width="0.7"/>
<polygon points="246.40,312.80 254.30,304.00 250.40,304.00 250.40,294.00 242.40,294.00 242.40,304.00 238.50,304.00" fill="#e1137c" stroke="#2a2a2a" stroke-width="0.7"/>
<polygon points="282.90,313.40 290.80,304.60 286.90,304.60 286.90,294.60 278.90,294.60 278.90,304.60 275.00,304.60" fill="#e1137c" stroke="#2a2a2a" stroke-width="0.7"/>
<polygon points="275.00,344.10 285.75,333.20 280.50,333.20 280.50,323.10 269.50,323.10 269.50,333.20 264.25,333.20" fill="#0a92dc" stroke="#2a2a2a" stroke-width="0.7"/>
<text x="288.11 300.22" y="336.9" style="font-family:'Liberation Sans',sans-serif;font-size:11px;font-weight:bold" fill="#1a1a1a" >出水</text>
</g>
<g transform="translate(422.5,347.6)">
<rect x="26.8" y="163.9" width="80.6" height="141.9" fill="#fff"/>
<rect x="26.8" y="249.3" width="52.2" height="56.5" fill="#e87b1a"/>
<rect x="105.6" y="249.3" width="2.2" height="56.5" fill="#e87b1a"/>
<rect x="79.2" y="255.6" width="26.4" height="50.20000000000002" fill="#e87b1a"/>
<line x1="26.8" y1="249.3" x2="79" y2="249.3" stroke="#5a3a10" stroke-width="0.8"/>
<line x1="79.2" y1="255.6" x2="105.6" y2="255.6" stroke="#5a3a10" stroke-width="0.8"/>
<rect x="79.2" y="197.6" width="26.4" height="108.2" fill="none" stroke="#777" stroke-width="0.9"/>
<path d="M79.2,255.6 V305.8 M105.6,255.6 V305.8" stroke="#5a3418" stroke-width="0.9"/>
<line x1="26.8" y1="287.5" x2="79.2" y2="287.5" stroke="#111" stroke-width="1.7"/>
<line x1="105.6" y1="287.5" x2="107.8" y2="287.5" stroke="#111" stroke-width="1.7"/>
<line x1="97" y1="205" x2="97" y2="208.6" stroke="#e0d27a" stroke-width="0.9"/>
<line x1="97" y1="225.5" x2="97" y2="266" stroke="#e8df8a" stroke-width="0.9"/>
<path d="M91.8,225.3 L92.6,212 Q93,208.2 97.3,208.2 Q101.6,208.2 102,212 L102.8,225.3" fill="none" stroke="#a0a2a6" stroke-width="1.3"/>
<line x1="88" y1="204.3" x2="104.5" y2="204.3" stroke="#2f5a2c" stroke-width="1.3"/>
<ellipse cx="89.0" cy="204.2" rx="2.6" ry="1.9" fill="#86c47a"/>
<ellipse cx="103.2" cy="204.2" rx="2.6" ry="1.9" fill="#86c47a"/>
<ellipse cx="96" cy="204.4" rx="1.8" ry="1.2" fill="#244a22"/>
<ellipse cx="97.4" cy="203.6" rx="1" ry="1.1" fill="#c8b040"/>
<rect x="94" y="266" width="7" height="26" rx="2" fill="#8fbf88" stroke="#6a9a66" stroke-width="0.5"/>
<rect x="92.8" y="276" width="9.4" height="3.2" rx="1.2" fill="#8fbf88" stroke="#6a9a66" stroke-width="0.5"/>
<polygon points="86.2,291.2 103,292.5 103,295 86.2,294.4" fill="#8fbf88" stroke="#6a9a66" stroke-width="0.4"/>
<rect x="86.4" y="285.5" width="3.8" height="7" fill="#8fbf88" stroke="#6a9a66" stroke-width="0.4"/>
<rect x="96.6" y="263.5" width="1" height="2.6" fill="#604070"/>
<path d="M88.4,286 V174.5 Q88.4,170 92.9,170 H101.8" fill="none" stroke="#111" stroke-width="2.2"/>
<rect x="101.3" y="167.6" width="4.3" height="5" fill="#1a1a1a"/>
<rect x="25.65" y="162.75" width="82.9" height="143.3" fill="none" stroke="#111" stroke-width="2.5"/>
<text x="41.55 60.90" y="191.2" style="font-family:'Liberation Sans',sans-serif;font-size:17.5px;font-weight:normal" fill="#1a1a1a" stroke="#1a1a1a" stroke-width="0.5">盐箱</text>
<text x="109.28 128.68" y="162.4" style="font-family:'Liberation Sans',sans-serif;font-size:16px;font-weight:normal" fill="#1a1a1a" stroke="#1a1a1a" stroke-width="0.5">吸盐</text>
<path d="M105.6,170 H134.8 V340.2 H256.1 V231" fill="none" stroke="#d69a68" stroke-width="1.25"/>
<polygon points="134.80,296.50 141.10,285.90 138.20,285.90 138.20,274.20 131.40,274.20 131.40,285.90 128.50,285.90" fill="#fff" stroke="#222" stroke-width="0.9"/>
<line x1="134.8" y1="274.5" x2="134.8" y2="296.5" stroke="#eeb07a" stroke-width="0.8"/>
<clipPath id="c3a"><path d="M152.35,155.85 C152.35,145.93 164.83299999999997,139.85 185.2,139.85 C205.567,139.85 218.05,145.93 218.05,155.85 L218.05,295.15 C218.05,303.52 205.567,308.65 185.2,308.65 C164.83299999999997,308.65 152.35,303.52 152.35,295.15 Z"/></clipPath>
<g clip-path="url(#c3a)">
<rect x="149.0" y="134.85" width="72.4" height="178.79999999999998" fill="#c6be6a"/>
<polygon points="149.0,134.85 221.4,134.85 221.4,194.50 219.40,194.50 207.50,195.00 201.40,192.70 193.40,195.50 185.90,191.70 181.70,194.10 177.50,191.30 171.40,195.50 162.50,191.70 151.00,193.60 149.0,193.60" fill="#fff200"/>
<polyline points="151.00,193.60 162.50,191.70 171.40,195.50 177.50,191.30 181.70,194.10 185.90,191.70 193.40,195.50 201.40,192.70 207.50,195.00 219.40,194.50" fill="none" stroke="#2a2a1e" stroke-width="1.05"/>
</g>
<path d="M152.35,155.85 C152.35,145.93 164.83299999999997,139.85 185.2,139.85 C205.567,139.85 218.05,145.93 218.05,155.85 L218.05,295.15 C218.05,303.52 205.567,308.65 185.2,308.65 C164.83299999999997,308.65 152.35,303.52 152.35,295.15 Z" fill="none" stroke="#111" stroke-width="2.7"/>
<path d="M218.05,295.15 C218.05,303.52 205.567,309.25 185.2,309.25 C164.83299999999997,309.25 152.35,303.52 152.35,295.15" fill="none" stroke="#111" stroke-width="1.2" transform="translate(0,0.7)"/>
<polygon points="170.20,193.20 174.80,180.40 172.65,180.40 172.65,166.20 167.75,166.20 167.75,180.40 165.60,180.40" fill="#fff" stroke="#1a1a1a" stroke-width="0.9" stroke-linejoin="miter"/>
<polygon points="202.20,193.20 206.80,180.40 204.65,180.40 204.65,166.20 199.75,166.20 199.75,180.40 197.60,180.40" fill="#fff" stroke="#1a1a1a" stroke-width="0.9" stroke-linejoin="miter"/>
<polygon points="170.20,290.00 174.80,277.20 172.65,277.20 172.65,263.00 167.75,263.00 167.75,277.20 165.60,277.20" fill="#fff" stroke="#1a1a1a" stroke-width="0.9" stroke-linejoin="miter"/>
<polygon points="202.20,290.00 206.80,277.20 204.65,277.20 204.65,263.00 199.75,263.00 199.75,277.20 197.60,277.20" fill="#fff" stroke="#1a1a1a" stroke-width="0.9" stroke-linejoin="miter"/>
<text x="166.83 186.22" y="231.0" style="font-family:'Liberation Sans',sans-serif;font-size:16.9px;font-weight:normal" fill="#1a1a1a" stroke="#1a1a1a" stroke-width="0.5">左罐</text>
<clipPath id="c3b"><path d="M309.85,155.85 C309.85,145.93 322.333,139.85 342.7,139.85 C363.06699999999995,139.85 375.54999999999995,145.93 375.54999999999995,155.85 L375.54999999999995,295.15 C375.54999999999995,303.52 363.06699999999995,308.65 342.7,308.65 C322.333,308.65 309.85,303.52 309.85,295.15 Z"/></clipPath>
<g clip-path="url(#c3b)">
<rect x="306.5" y="134.85" width="72.39999999999998" height="178.79999999999998" fill="#e1137c"/>
<polygon points="306.5,134.85 378.9,134.85 378.9,254.20 376.90,254.20 366.70,252.80 359.70,256.10 351.20,253.30 344.20,256.50 339.50,254.20 335.80,257.00 329.70,252.80 320.80,257.00 308.50,254.20 306.5,254.20" fill="#c6be6a"/>
<polyline points="308.50,254.20 320.80,257.00 329.70,252.80 335.80,257.00 339.50,254.20 344.20,256.50 351.20,253.30 359.70,256.10 366.70,252.80 376.90,254.20" fill="none" stroke="#2a2a1e" stroke-width="1.05"/>
</g>
<path d="M309.85,155.85 C309.85,145.93 322.333,139.85 342.7,139.85 C363.06699999999995,139.85 375.54999999999995,145.93 375.54999999999995,155.85 L375.54999999999995,295.15 C375.54999999999995,303.52 363.06699999999995,308.65 342.7,308.65 C322.333,308.65 309.85,303.52 309.85,295.15 Z" fill="none" stroke="#111" stroke-width="2.7"/>
<path d="M375.54999999999995,295.15 C375.54999999999995,303.52 363.06699999999995,309.25 342.7,309.25 C322.333,309.25 309.85,303.52 309.85,295.15" fill="none" stroke="#111" stroke-width="1.2" transform="translate(0,0.7)"/>
<polygon points="325.70,166.20 330.90,179.40 328.40,179.40 328.40,193.20 323.00,193.20 323.00,179.40 320.50,179.40" fill="#fff" stroke="#1a1a1a" stroke-width="0.9" stroke-linejoin="miter"/>
<polygon points="357.70,166.20 362.90,179.40 360.40,179.40 360.40,193.20 355.00,193.20 355.00,179.40 352.50,179.40" fill="#fff" stroke="#1a1a1a" stroke-width="0.9" stroke-linejoin="miter"/>
<polygon points="325.70,263.00 330.90,276.20 328.40,276.20 328.40,290.00 323.00,290.00 323.00,276.20 320.50,276.20" fill="#fff" stroke="#1a1a1a" stroke-width="0.9" stroke-linejoin="miter"/>
<polygon points="357.70,263.00 362.90,276.20 360.40,276.20 360.40,290.00 355.00,290.00 355.00,276.20 352.50,276.20" fill="#fff" stroke="#1a1a1a" stroke-width="0.9" stroke-linejoin="miter"/>
<text x="324.35 343.82" y="231.0" style="font-family:'Liberation Sans',sans-serif;font-size:16.9px;font-weight:normal" fill="#1a1a1a" stroke="#1a1a1a" stroke-width="0.5">右罐</text>
<path d="M185.2,140 V135.3 Q185.2,129.3 191.2,129.3 H240.6 Q246.6,129.3 246.6,135.3 V194" fill="none" stroke="#4e4e40" stroke-width="4.3" stroke-linejoin="round"/>
<path d="M185.2,140 V135.3 Q185.2,129.3 191.2,129.3 H240.6 Q246.6,129.3 246.6,135.3 V194" fill="none" stroke="#a0b96a" stroke-width="2.5" stroke-linejoin="round"/>
<path d="M343.6,140 V135.3 Q343.6,129.3 337.6,129.3 H288.8 Q282.8,129.3 282.8,135.3 V196" fill="none" stroke="#4e4e40" stroke-width="4.3" stroke-linejoin="round"/>
<path d="M343.6,140 V135.3 Q343.6,129.3 337.6,129.3 H288.8 Q282.8,129.3 282.8,135.3 V196" fill="none" stroke="#a0b96a" stroke-width="2.5" stroke-linejoin="round"/>
<path d="M185.2,308 V313.2 Q185.2,319.2 191.2,319.2 H240.6 Q246.6,319.2 246.6,313.2 V246" fill="none" stroke="#4e4e40" stroke-width="4.3" stroke-linejoin="round"/>
<path d="M185.2,308 V313.2 Q185.2,319.2 191.2,319.2 H240.6 Q246.6,319.2 246.6,313.2 V246" fill="none" stroke="#a0b96a" stroke-width="2.5" stroke-linejoin="round"/>
<path d="M343.6,308 V313.2 Q343.6,319.2 337.6,319.2 H288.8 Q282.8,319.2 282.8,313.2 V276" fill="none" stroke="#4e4e40" stroke-width="4.3" stroke-linejoin="round"/>
<path d="M343.6,308 V313.2 Q343.6,319.2 337.6,319.2 H288.8 Q282.8,319.2 282.8,313.2 V276" fill="none" stroke="#a0b96a" stroke-width="2.5" stroke-linejoin="round"/>
<line x1="255.7" y1="108.4" x2="255.7" y2="187" stroke="#2a0a1a" stroke-width="2.6"/>
<line x1="255.7" y1="108.9" x2="255.7" y2="186.5" stroke="#b0175f" stroke-width="1.6"/>
<polygon points="255.60,135.00 266.10,124.80 261.05,124.80 261.05,114.00 250.15,114.00 250.15,124.80 245.10,124.80" fill="#e1137c" stroke="#2a2a2a" stroke-width="0.7"/>
<text x="262.56 275.22" y="120.3" style="font-family:'Liberation Sans',sans-serif;font-size:11px;font-weight:bold" fill="#1a1a1a" >进水</text>
<line x1="261.1" y1="232" x2="261.1" y2="345" stroke="#54463f" stroke-width="3.4"/>
<line x1="275.1" y1="276" x2="275.1" y2="347.6" stroke="#1d4f70" stroke-width="3.6"/>
<line x1="275.1" y1="276" x2="275.1" y2="347.2" stroke="#1a90d8" stroke-width="2.2"/>
<rect x="243.9" y="179" width="5.6" height="15" fill="#46483a"/>
<rect x="245.3" y="179" width="2.8" height="15" fill="#a0b96a"/>
<rect x="248.6" y="179" width="2" height="7" fill="#2a2a2a"/>
<rect x="270" y="183.3" width="16" height="27" fill="#4f5357"/>
<rect x="280" y="180" width="5.6" height="16" fill="#46483a"/>
<rect x="281.4" y="180" width="2.8" height="16" fill="#a0b96a"/>
<path d="M236.8,190.5 Q236.8,187.6 239.5,187.6 H255 Q257.8,187.6 257.8,190.5 V193 Q256.5,194 256,196 L255,199.6 H239.6 L238.6,196 Q238,194 236.8,193 Z" fill="#ebc042" stroke="#a07e28" stroke-width="0.5"/>
<rect x="243.9" y="186" width="5.6" height="9" fill="#46483a"/>
<rect x="245.3" y="186" width="2.8" height="9" fill="#a0b96a"/>
<path d="M242.2,210 V197 Q242.2,194 245,194 H250 Q252.8,194 252.8,197 V210 Z" fill="#a4a6a8"/>
<rect x="240.6" y="201.8" width="13.6" height="6.2" fill="#a2a4a6"/>
<rect x="242.2" y="200.6" width="10.6" height="1.2" fill="#8a8c8e"/>
<rect x="242.2" y="208" width="10.6" height="2" fill="#a8aaac"/>
<path d="M278.3,210 V197.5 Q278.3,195 281,195 H285 Q287.6,195 287.6,197.5 V210 Z" fill="#a4a6a8"/>
<rect x="276.6" y="201.8" width="12.9" height="6.2" fill="#a2a4a6"/>
<rect x="278.3" y="200.6" width="9.3" height="1.2" fill="#8a8c8e"/>
<circle cx="260" cy="199.6" r="4.4" fill="#fff" stroke="#8a8a8a" stroke-width="0.9"/>
<line x1="258.2" y1="201.2" x2="261.5" y2="198" stroke="#444" stroke-width="0.7"/>
<rect x="258.6" y="204.2" width="2.6" height="2" fill="#d8b030"/>
<rect x="258.6" y="206.2" width="2.6" height="3.8" fill="#2f3c50"/>
<rect x="262" y="206" width="5.5" height="4.2" fill="#2a2d30"/>
<rect x="287" y="206" width="6.5" height="4.5" fill="#34393d"/>
<rect x="237.8" y="209.8" width="53.6" height="21.9" rx="2.5" fill="#34393d"/>
<rect x="235.2" y="215" width="3.5" height="11" rx="0.8" fill="#2e3337"/>
<rect x="290.6" y="215" width="3.7" height="11" rx="0.8" fill="#2e3337"/>
<rect x="244.9" y="214.6" width="39.3" height="12.7" rx="1.5" fill="#1f2326" stroke="#474d52" stroke-width="0.9"/>
<rect x="248.8" y="217.2" width="13.2" height="7.5" fill="#4c69a7"/>
<rect x="266.5" y="216.80" width="1.2" height="0.8" fill="#6a6e72"/>
<rect x="268.6" y="216.80" width="1.2" height="0.8" fill="#c06a3a"/>
<rect x="270.6" y="216.80" width="1.6" height="0.8" fill="#5a5e62"/>
<rect x="266.5" y="218.70" width="1.2" height="0.8" fill="#6a6e72"/>
<rect x="268.6" y="218.70" width="1.2" height="0.8" fill="#c06a3a"/>
<rect x="270.6" y="218.70" width="1.6" height="0.8" fill="#5a5e62"/>
<rect x="266.5" y="220.60" width="1.2" height="0.8" fill="#6a6e72"/>
<rect x="268.6" y="220.60" width="1.2" height="0.8" fill="#c06a3a"/>
<rect x="270.6" y="220.60" width="1.6" height="0.8" fill="#5a5e62"/>
<rect x="266.5" y="222.50" width="1.2" height="0.8" fill="#6a6e72"/>
<rect x="268.6" y="222.50" width="1.2" height="0.8" fill="#c06a3a"/>
<rect x="270.6" y="222.50" width="1.6" height="0.8" fill="#5a5e62"/>
<rect x="266.5" y="224.40" width="1.2" height="0.8" fill="#6a6e72"/>
<rect x="268.6" y="224.40" width="1.2" height="0.8" fill="#c06a3a"/>
<rect x="270.6" y="224.40" width="1.6" height="0.8" fill="#5a5e62"/>
<rect x="275.2" y="218.2" width="2.5" height="2" fill="#e8e8e8"/>
<rect x="274.4" y="221" width="2.6" height="2" fill="#e8e8e8"/>
<rect x="277.6" y="221" width="2.6" height="2" fill="#e8e8e8"/>
<rect x="274.4" y="223.8" width="5.8" height="2" fill="#e8e8e8"/>
<rect x="240.3" y="231.7" width="10.8" height="14.3" fill="#a2a4a6"/>
<rect x="238.2" y="234.5" width="14.6" height="7" fill="#9a9c9e"/>
<rect x="259.9" y="231.5" width="17" height="10.3" fill="#33383c"/>
<rect x="276.5" y="231" width="11.3" height="8" fill="#2d3235"/>
<rect x="265" y="232.8" width="9.6" height="4.2" fill="#8d9094"/>
<rect x="265" y="240" width="5" height="5" fill="#8d9094"/>
<path d="M272,243 Q272,237.5 277,237.5 H288 Q293,237.5 293,243 V252 Q293,256.5 289,256.5 V262 H276 V256.5 Q272,256.5 272,252 Z" fill="#2b3033"/>
<rect x="281.6" y="244" width="0.6" height="5" fill="#6a6e72"/>
<rect x="283.2" y="244" width="0.6" height="5" fill="#6a6e72"/>
<rect x="272.6" y="262" width="16" height="14.5" fill="#e6e6e2" stroke="#cfcfca" stroke-width="0.5"/>
<polygon points="246.40,152.80 254.30,161.60 250.40,161.60 250.40,171.60 242.40,171.60 242.40,161.60 238.50,161.60" fill="#fff200" stroke="#2a2a2a" stroke-width="0.7"/>
<polygon points="282.80,172.00 290.70,163.20 286.80,163.20 286.80,153.20 278.80,153.20 278.80,163.20 274.90,163.20" fill="#0a92dc" stroke="#2a2a2a" stroke-width="0.7"/>
<polygon points="246.40,294.00 254.30,302.80 250.40,302.80 250.40,312.80 242.40,312.80 242.40,302.80 238.50,302.80" fill="#6f635d" stroke="#2a2a2a" stroke-width="0.7"/>
<polygon points="282.90,313.40 290.80,304.60 286.90,304.60 286.90,294.60 278.90,294.60 278.90,304.60 275.00,304.60" fill="#e1137c" stroke="#2a2a2a" stroke-width="0.7"/>
<polygon points="275.00,344.10 285.75,333.20 280.50,333.20 280.50,323.10 269.50,323.10 269.50,333.20 264.25,333.20" fill="#0a92dc" stroke="#2a2a2a" stroke-width="0.7"/>
<text x="288.11 300.22" y="336.9" style="font-family:'Liberation Sans',sans-serif;font-size:11px;font-weight:bold" fill="#1a1a1a" >出水</text>
<polygon points="261.20,363.80 269.10,354.20 265.20,354.20 265.20,344.60 257.20,344.60 257.20,354.20 253.30,354.20" fill="#6f635d" stroke="#2a2a2a" stroke-width="0.7"/>
<line x1="261.1" y1="345" x2="261.1" y2="357.5" stroke="#54463f" stroke-width="2" stroke-linecap="round"/>
<text x="226.28 239.06" y="360.0" style="font-family:'Liberation Sans',sans-serif;font-size:11px;font-weight:bold" fill="#1a1a1a" >排污</text>
</g>
<g transform="translate(0,695)">
<rect x="26.8" y="163.9" width="80.6" height="141.9" fill="#fff"/>
<rect x="26.8" y="260.6" width="52.2" height="45.19999999999999" fill="#e87b1a"/>
<rect x="105.6" y="260.6" width="2.2" height="45.19999999999999" fill="#e87b1a"/>
<rect x="79.2" y="252.0" width="26.4" height="53.80000000000001" fill="#e1137c"/>
<line x1="26.8" y1="260.6" x2="79" y2="260.6" stroke="#5a3a10" stroke-width="0.8"/>
<line x1="79.2" y1="252.0" x2="105.6" y2="252.0" stroke="#5a3a10" stroke-width="0.8"/>
<rect x="79.2" y="197.6" width="26.4" height="108.2" fill="none" stroke="#777" stroke-width="0.9"/>
<path d="M79.2,252.0 V305.8 M105.6,252.0 V305.8" stroke="#5a3418" stroke-width="0.9"/>
<line x1="26.8" y1="287.5" x2="79.2" y2="287.5" stroke="#111" stroke-width="1.7"/>
<line x1="105.6" y1="287.5" x2="107.8" y2="287.5" stroke="#111" stroke-width="1.7"/>
<line x1="97" y1="205" x2="97" y2="208.6" stroke="#e0d27a" stroke-width="0.9"/>
<line x1="97" y1="225.5" x2="97" y2="266" stroke="#e8df8a" stroke-width="0.9"/>
<path d="M91.8,225.3 L92.6,212 Q93,208.2 97.3,208.2 Q101.6,208.2 102,212 L102.8,225.3" fill="none" stroke="#a0a2a6" stroke-width="1.3"/>
<line x1="88" y1="204.3" x2="104.5" y2="204.3" stroke="#2f5a2c" stroke-width="1.3"/>
<ellipse cx="89.0" cy="204.2" rx="2.6" ry="1.9" fill="#86c47a"/>
<ellipse cx="103.2" cy="204.2" rx="2.6" ry="1.9" fill="#86c47a"/>
<ellipse cx="96" cy="204.4" rx="1.8" ry="1.2" fill="#244a22"/>
<ellipse cx="97.4" cy="203.6" rx="1" ry="1.1" fill="#c8b040"/>
<rect x="94" y="266" width="7" height="26" rx="2" fill="#8fbf88" stroke="#6a9a66" stroke-width="0.5"/>
<rect x="92.8" y="276" width="9.4" height="3.2" rx="1.2" fill="#8fbf88" stroke="#6a9a66" stroke-width="0.5"/>
<polygon points="86.2,291.2 103,292.5 103,295 86.2,294.4" fill="#8fbf88" stroke="#6a9a66" stroke-width="0.4"/>
<rect x="86.4" y="285.5" width="3.8" height="7" fill="#8fbf88" stroke="#6a9a66" stroke-width="0.4"/>
<rect x="96.6" y="263.5" width="1" height="2.6" fill="#604070"/>
<path d="M88.4,286 V174.5 Q88.4,170 92.9,170 H101.8" fill="none" stroke="#111" stroke-width="2.2"/>
<rect x="101.3" y="167.6" width="4.3" height="5" fill="#1a1a1a"/>
<rect x="25.65" y="162.75" width="82.9" height="143.3" fill="none" stroke="#111" stroke-width="2.5"/>
<text x="41.55 60.90" y="191.2" style="font-family:'Liberation Sans',sans-serif;font-size:17.5px;font-weight:normal" fill="#1a1a1a" stroke="#1a1a1a" stroke-width="0.5">盐箱</text>
<text x="109.46 128.26" y="162.8" style="font-family:'Liberation Sans',sans-serif;font-size:16px;font-weight:normal" fill="#1a1a1a" stroke="#1a1a1a" stroke-width="0.5">补水</text>
<path d="M105.6,170 H134.8 V340.2 H256.1 V231" fill="none" stroke="#e2885a" stroke-width="1.25"/>
<polygon points="134.80,275.20 141.10,285.50 138.20,285.50 138.20,296.50 131.40,296.50 131.40,285.50 128.50,285.50" fill="#fff" stroke="#222" stroke-width="0.9"/>
<line x1="134.8" y1="274.5" x2="134.8" y2="296.5" stroke="#eeb07a" stroke-width="0.8"/>
<clipPath id="c4a"><path d="M152.35,155.85 C152.35,145.93 164.83299999999997,139.85 185.2,139.85 C205.567,139.85 218.05,145.93 218.05,155.85 L218.05,295.15 C218.05,303.52 205.567,308.65 185.2,308.65 C164.83299999999997,308.65 152.35,303.52 152.35,295.15 Z"/></clipPath>
<g clip-path="url(#c4a)">
<rect x="149.0" y="134.85" width="72.4" height="178.79999999999998" fill="#c6be6a"/>
<polygon points="149.0,134.85 221.4,134.85 221.4,194.50 219.40,194.50 207.50,195.00 201.40,192.70 193.40,195.50 185.90,191.70 181.70,194.10 177.50,191.30 171.40,195.50 162.50,191.70 151.00,193.60 149.0,193.60" fill="#0a92dc"/>
<polyline points="151.00,193.60 162.50,191.70 171.40,195.50 177.50,191.30 181.70,194.10 185.90,191.70 193.40,195.50 201.40,192.70 207.50,195.00 219.40,194.50" fill="none" stroke="#2a2a1e" stroke-width="1.05"/>
</g>
<path d="M152.35,155.85 C152.35,145.93 164.83299999999997,139.85 185.2,139.85 C205.567,139.85 218.05,145.93 218.05,155.85 L218.05,295.15 C218.05,303.52 205.567,308.65 185.2,308.65 C164.83299999999997,308.65 152.35,303.52 152.35,295.15 Z" fill="none" stroke="#111" stroke-width="2.7"/>
<path d="M218.05,295.15 C218.05,303.52 205.567,309.25 185.2,309.25 C164.83299999999997,309.25 152.35,303.52 152.35,295.15" fill="none" stroke="#111" stroke-width="1.2" transform="translate(0,0.7)"/>
<polygon points="170.20,193.20 174.80,180.40 172.65,180.40 172.65,166.20 167.75,166.20 167.75,180.40 165.60,180.40" fill="#fff" stroke="#1a1a1a" stroke-width="0.9" stroke-linejoin="miter"/>
<polygon points="202.20,193.20 206.80,180.40 204.65,180.40 204.65,166.20 199.75,166.20 199.75,180.40 197.60,180.40" fill="#fff" stroke="#1a1a1a" stroke-width="0.9" stroke-linejoin="miter"/>
<polygon points="170.20,290.00 174.80,277.20 172.65,277.20 172.65,263.00 167.75,263.00 167.75,277.20 165.60,277.20" fill="#fff" stroke="#1a1a1a" stroke-width="0.9" stroke-linejoin="miter"/>
<polygon points="202.20,290.00 206.80,277.20 204.65,277.20 204.65,263.00 199.75,263.00 199.75,277.20 197.60,277.20" fill="#fff" stroke="#1a1a1a" stroke-width="0.9" stroke-linejoin="miter"/>
<text x="166.93 186.32" y="221.4" style="font-family:'Liberation Sans',sans-serif;font-size:16.9px;font-weight:normal" fill="#1a1a1a" stroke="#1a1a1a" stroke-width="0.5">左罐</text>
<clipPath id="c4b"><path d="M309.85,155.85 C309.85,145.93 322.333,139.85 342.7,139.85 C363.06699999999995,139.85 375.54999999999995,145.93 375.54999999999995,155.85 L375.54999999999995,295.15 C375.54999999999995,303.52 363.06699999999995,308.65 342.7,308.65 C322.333,308.65 309.85,303.52 309.85,295.15 Z"/></clipPath>
<g clip-path="url(#c4b)">
<rect x="306.5" y="134.85" width="72.39999999999998" height="178.79999999999998" fill="#e1137c"/>
<polygon points="306.5,134.85 378.9,134.85 378.9,255.20 376.90,255.20 366.70,253.80 359.70,257.10 351.20,254.30 344.20,257.50 339.50,255.20 335.80,258.00 329.70,253.80 320.80,258.00 308.50,255.20 306.5,255.20" fill="#c6be6a"/>
<polyline points="308.50,255.20 320.80,258.00 329.70,253.80 335.80,258.00 339.50,255.20 344.20,257.50 351.20,254.30 359.70,257.10 366.70,253.80 376.90,255.20" fill="none" stroke="#2a2a1e" stroke-width="1.05"/>
</g>
<path d="M309.85,155.85 C309.85,145.93 322.333,139.85 342.7,139.85 C363.06699999999995,139.85 375.54999999999995,145.93 375.54999999999995,155.85 L375.54999999999995,295.15 C375.54999999999995,303.52 363.06699999999995,308.65 342.7,308.65 C322.333,308.65 309.85,303.52 309.85,295.15 Z" fill="none" stroke="#111" stroke-width="2.7"/>
<path d="M375.54999999999995,295.15 C375.54999999999995,303.52 363.06699999999995,309.25 342.7,309.25 C322.333,309.25 309.85,303.52 309.85,295.15" fill="none" stroke="#111" stroke-width="1.2" transform="translate(0,0.7)"/>
<polygon points="325.70,166.20 330.90,179.40 328.40,179.40 328.40,193.20 323.00,193.20 323.00,179.40 320.50,179.40" fill="#fff" stroke="#1a1a1a" stroke-width="0.9" stroke-linejoin="miter"/>
<polygon points="357.70,166.20 362.90,179.40 360.40,179.40 360.40,193.20 355.00,193.20 355.00,179.40 352.50,179.40" fill="#fff" stroke="#1a1a1a" stroke-width="0.9" stroke-linejoin="miter"/>
<polygon points="325.70,263.00 330.90,276.20 328.40,276.20 328.40,290.00 323.00,290.00 323.00,276.20 320.50,276.20" fill="#fff" stroke="#1a1a1a" stroke-width="0.9" stroke-linejoin="miter"/>
<polygon points="357.70,263.00 362.90,276.20 360.40,276.20 360.40,290.00 355.00,290.00 355.00,276.20 352.50,276.20" fill="#fff" stroke="#1a1a1a" stroke-width="0.9" stroke-linejoin="miter"/>
<text x="324.15 343.62" y="221.4" style="font-family:'Liberation Sans',sans-serif;font-size:16.9px;font-weight:normal" fill="#1a1a1a" stroke="#1a1a1a" stroke-width="0.5">右罐</text>
<path d="M185.2,140 V135.3 Q185.2,129.3 191.2,129.3 H240.6 Q246.6,129.3 246.6,135.3 V194" fill="none" stroke="#4e4e40" stroke-width="4.3" stroke-linejoin="round"/>
<path d="M185.2,140 V135.3 Q185.2,129.3 191.2,129.3 H240.6 Q246.6,129.3 246.6,135.3 V194" fill="none" stroke="#a0b96a" stroke-width="2.5" stroke-linejoin="round"/>
<path d="M343.6,140 V135.3 Q343.6,129.3 337.6,129.3 H288.8 Q282.8,129.3 282.8,135.3 V196" fill="none" stroke="#4e4e40" stroke-width="4.3" stroke-linejoin="round"/>
<path d="M343.6,140 V135.3 Q343.6,129.3 337.6,129.3 H288.8 Q282.8,129.3 282.8,135.3 V196" fill="none" stroke="#a0b96a" stroke-width="2.5" stroke-linejoin="round"/>
<path d="M185.2,308 V313.2 Q185.2,319.2 191.2,319.2 H240.6 Q246.6,319.2 246.6,313.2 V246" fill="none" stroke="#4e4e40" stroke-width="4.3" stroke-linejoin="round"/>
<path d="M185.2,308 V313.2 Q185.2,319.2 191.2,319.2 H240.6 Q246.6,319.2 246.6,313.2 V246" fill="none" stroke="#a0b96a" stroke-width="2.5" stroke-linejoin="round"/>
<path d="M343.6,308 V313.2 Q343.6,319.2 337.6,319.2 H288.8 Q282.8,319.2 282.8,313.2 V276" fill="none" stroke="#4e4e40" stroke-width="4.3" stroke-linejoin="round"/>
<path d="M343.6,308 V313.2 Q343.6,319.2 337.6,319.2 H288.8 Q282.8,319.2 282.8,313.2 V276" fill="none" stroke="#a0b96a" stroke-width="2.5" stroke-linejoin="round"/>
<line x1="255.7" y1="108.4" x2="255.7" y2="187" stroke="#2a0a1a" stroke-width="2.6"/>
<line x1="255.7" y1="108.9" x2="255.7" y2="186.5" stroke="#b0175f" stroke-width="1.6"/>
<polygon points="255.60,135.00 266.10,124.80 261.05,124.80 261.05,114.00 250.15,114.00 250.15,124.80 245.10,124.80" fill="#e1137c" stroke="#2a2a2a" stroke-width="0.7"/>
<text x="262.56 275.22" y="120.3" style="font-family:'Liberation Sans',sans-serif;font-size:11px;font-weight:bold" fill="#1a1a1a" >进水</text>
<line x1="261.1" y1="232" x2="261.1" y2="345" stroke="#54463f" stroke-width="3.4"/>
<line x1="275.1" y1="276" x2="275.1" y2="347.6" stroke="#1d4f70" stroke-width="3.6"/>
<line x1="275.1" y1="276" x2="275.1" y2="347.2" stroke="#1a90d8" stroke-width="2.2"/>
<rect x="243.9" y="179" width="5.6" height="15" fill="#46483a"/>
<rect x="245.3" y="179" width="2.8" height="15" fill="#a0b96a"/>
<rect x="248.6" y="179" width="2" height="7" fill="#2a2a2a"/>
<rect x="270" y="183.3" width="16" height="27" fill="#4f5357"/>
<rect x="280" y="180" width="5.6" height="16" fill="#46483a"/>
<rect x="281.4" y="180" width="2.8" height="16" fill="#a0b96a"/>
<path d="M236.8,190.5 Q236.8,187.6 239.5,187.6 H255 Q257.8,187.6 257.8,190.5 V193 Q256.5,194 256,196 L255,199.6 H239.6 L238.6,196 Q238,194 236.8,193 Z" fill="#ebc042" stroke="#a07e28" stroke-width="0.5"/>
<rect x="243.9" y="186" width="5.6" height="9" fill="#46483a"/>
<rect x="245.3" y="186" width="2.8" height="9" fill="#a0b96a"/>
<path d="M242.2,210 V197 Q242.2,194 245,194 H250 Q252.8,194 252.8,197 V210 Z" fill="#a4a6a8"/>
<rect x="240.6" y="201.8" width="13.6" height="6.2" fill="#a2a4a6"/>
<rect x="242.2" y="200.6" width="10.6" height="1.2" fill="#8a8c8e"/>
<rect x="242.2" y="208" width="10.6" height="2" fill="#a8aaac"/>
<path d="M278.3,210 V197.5 Q278.3,195 281,195 H285 Q287.6,195 287.6,197.5 V210 Z" fill="#a4a6a8"/>
<rect x="276.6" y="201.8" width="12.9" height="6.2" fill="#a2a4a6"/>
<rect x="278.3" y="200.6" width="9.3" height="1.2" fill="#8a8c8e"/>
<circle cx="260" cy="199.6" r="4.4" fill="#fff" stroke="#8a8a8a" stroke-width="0.9"/>
<line x1="258.2" y1="201.2" x2="261.5" y2="198" stroke="#444" stroke-width="0.7"/>
<rect x="258.6" y="204.2" width="2.6" height="2" fill="#d8b030"/>
<rect x="258.6" y="206.2" width="2.6" height="3.8" fill="#2f3c50"/>
<rect x="262" y="206" width="5.5" height="4.2" fill="#2a2d30"/>
<rect x="287" y="206" width="6.5" height="4.5" fill="#34393d"/>
<rect x="237.8" y="209.8" width="53.6" height="21.9" rx="2.5" fill="#34393d"/>
<rect x="235.2" y="215" width="3.5" height="11" rx="0.8" fill="#2e3337"/>
<rect x="290.6" y="215" width="3.7" height="11" rx="0.8" fill="#2e3337"/>
<rect x="244.9" y="214.6" width="39.3" height="12.7" rx="1.5" fill="#1f2326" stroke="#474d52" stroke-width="0.9"/>
<rect x="248.8" y="217.2" width="13.2" height="7.5" fill="#4c69a7"/>
<rect x="266.5" y="216.80" width="1.2" height="0.8" fill="#6a6e72"/>
<rect x="268.6" y="216.80" width="1.2" height="0.8" fill="#c06a3a"/>
<rect x="270.6" y="216.80" width="1.6" height="0.8" fill="#5a5e62"/>
<rect x="266.5" y="218.70" width="1.2" height="0.8" fill="#6a6e72"/>
<rect x="268.6" y="218.70" width="1.2" height="0.8" fill="#c06a3a"/>
<rect x="270.6" y="218.70" width="1.6" height="0.8" fill="#5a5e62"/>
<rect x="266.5" y="220.60" width="1.2" height="0.8" fill="#6a6e72"/>
<rect x="268.6" y="220.60" width="1.2" height="0.8" fill="#c06a3a"/>
<rect x="270.6" y="220.60" width="1.6" height="0.8" fill="#5a5e62"/>
<rect x="266.5" y="222.50" width="1.2" height="0.8" fill="#6a6e72"/>
<rect x="268.6" y="222.50" width="1.2" height="0.8" fill="#c06a3a"/>
<rect x="270.6" y="222.50" width="1.6" height="0.8" fill="#5a5e62"/>
<rect x="266.5" y="224.40" width="1.2" height="0.8" fill="#6a6e72"/>
<rect x="268.6" y="224.40" width="1.2" height="0.8" fill="#c06a3a"/>
<rect x="270.6" y="224.40" width="1.6" height="0.8" fill="#5a5e62"/>
<rect x="275.2" y="218.2" width="2.5" height="2" fill="#e8e8e8"/>
<rect x="274.4" y="221" width="2.6" height="2" fill="#e8e8e8"/>
<rect x="277.6" y="221" width="2.6" height="2" fill="#e8e8e8"/>
<rect x="274.4" y="223.8" width="5.8" height="2" fill="#e8e8e8"/>
<rect x="240.3" y="231.7" width="10.8" height="14.3" fill="#a2a4a6"/>
<rect x="238.2" y="234.5" width="14.6" height="7" fill="#9a9c9e"/>
<rect x="259.9" y="231.5" width="17" height="10.3" fill="#33383c"/>
<rect x="276.5" y="231" width="11.3" height="8" fill="#2d3235"/>
<rect x="265" y="232.8" width="9.6" height="4.2" fill="#8d9094"/>
<rect x="265" y="240" width="5" height="5" fill="#8d9094"/>
<path d="M272,243 Q272,237.5 277,237.5 H288 Q293,237.5 293,243 V252 Q293,256.5 289,256.5 V262 H276 V256.5 Q272,256.5 272,252 Z" fill="#2b3033"/>
<rect x="281.6" y="244" width="0.6" height="5" fill="#6a6e72"/>
<rect x="283.2" y="244" width="0.6" height="5" fill="#6a6e72"/>
<rect x="272.6" y="262" width="16" height="14.5" fill="#e6e6e2" stroke="#cfcfca" stroke-width="0.5"/>
<polygon points="246.40,152.80 254.30,161.60 250.40,161.60 250.40,171.60 242.40,171.60 242.40,161.60 238.50,161.60" fill="#0a92dc" stroke="#2a2a2a" stroke-width="0.7"/>
<polygon points="282.80,172.00 290.70,163.20 286.80,163.20 286.80,153.20 278.80,153.20 278.80,163.20 274.90,163.20" fill="#0a92dc" stroke="#2a2a2a" stroke-width="0.7"/>
<polygon points="246.40,294.00 254.30,302.80 250.40,302.80 250.40,312.80 242.40,312.80 242.40,302.80 238.50,302.80" fill="#6f635d" stroke="#2a2a2a" stroke-width="0.7"/>
<polygon points="282.90,313.40 290.80,304.60 286.90,304.60 286.90,294.60 278.90,294.60 278.90,304.60 275.00,304.60" fill="#e1137c" stroke="#2a2a2a" stroke-width="0.7"/>
<polygon points="275.00,344.10 285.75,333.20 280.50,333.20 280.50,323.10 269.50,323.10 269.50,333.20 264.25,333.20" fill="#0a92dc" stroke="#2a2a2a" stroke-width="0.7"/>
<text x="288.11 300.22" y="336.9" style="font-family:'Liberation Sans',sans-serif;font-size:11px;font-weight:bold" fill="#1a1a1a" >出水</text>
<polygon points="261.20,363.80 269.10,354.20 265.20,354.20 265.20,344.60 257.20,344.60 257.20,354.20 253.30,354.20" fill="#6f635d" stroke="#2a2a2a" stroke-width="0.7"/>
<line x1="261.1" y1="345" x2="261.1" y2="357.5" stroke="#54463f" stroke-width="2" stroke-linecap="round"/>
<text x="226.28 239.06" y="360.0" style="font-family:'Liberation Sans',sans-serif;font-size:11px;font-weight:bold" fill="#1a1a1a" >排污</text>
</g>
<g transform="translate(422.5,695)">
<rect x="26.8" y="163.9" width="80.6" height="141.9" fill="#fff"/>
<rect x="26.8" y="224.4" width="52.2" height="81.4" fill="#e87b1a"/>
<rect x="105.6" y="224.4" width="2.2" height="81.4" fill="#e87b1a"/>
<rect x="79.2" y="222.5" width="26.4" height="83.30000000000001" fill="#e87b1a"/>
<line x1="26.8" y1="224.4" x2="79" y2="224.4" stroke="#5a3a10" stroke-width="0.8"/>
<line x1="79.2" y1="222.5" x2="105.6" y2="222.5" stroke="#5a3a10" stroke-width="0.8"/>
<rect x="79.2" y="197.6" width="26.4" height="108.2" fill="none" stroke="#777" stroke-width="0.9"/>
<path d="M79.2,222.5 V305.8 M105.6,222.5 V305.8" stroke="#5a3418" stroke-width="0.9"/>
<line x1="26.8" y1="287.5" x2="79.2" y2="287.5" stroke="#111" stroke-width="1.7"/>
<line x1="105.6" y1="287.5" x2="107.8" y2="287.5" stroke="#111" stroke-width="1.7"/>
<line x1="97" y1="205" x2="97" y2="208.6" stroke="#e0d27a" stroke-width="0.9"/>
<line x1="97" y1="225.5" x2="97" y2="266" stroke="#e8df8a" stroke-width="0.9"/>
<path d="M91.8,225.3 L92.6,212 Q93,208.2 97.3,208.2 Q101.6,208.2 102,212 L102.8,225.3 Z" fill="#fbfbfb" stroke="#a8aaae" stroke-width="0.8"/>
<path d="M100.5,211 L101.3,224.5" stroke="#c8cacd" stroke-width="1.2"/>
<line x1="88" y1="204.3" x2="104.5" y2="204.3" stroke="#2f5a2c" stroke-width="1.3"/>
<ellipse cx="89.0" cy="204.2" rx="2.6" ry="1.9" fill="#86c47a"/>
<ellipse cx="103.2" cy="204.2" rx="2.6" ry="1.9" fill="#86c47a"/>
<ellipse cx="96" cy="204.4" rx="1.8" ry="1.2" fill="#244a22"/>
<ellipse cx="97.4" cy="203.6" rx="1" ry="1.1" fill="#c8b040"/>
<rect x="94" y="266" width="7" height="26" rx="2" fill="#8fbf88" stroke="#6a9a66" stroke-width="0.5"/>
<rect x="92.8" y="276" width="9.4" height="3.2" rx="1.2" fill="#8fbf88" stroke="#6a9a66" stroke-width="0.5"/>
<polygon points="86.2,291.2 103,292.5 103,295 86.2,294.4" fill="#8fbf88" stroke="#6a9a66" stroke-width="0.4"/>
<rect x="86.4" y="285.5" width="3.8" height="7" fill="#8fbf88" stroke="#6a9a66" stroke-width="0.4"/>
<rect x="96.6" y="263.5" width="1" height="2.6" fill="#604070"/>
<path d="M88.4,286 V174.5 Q88.4,170 92.9,170 H101.8" fill="none" stroke="#111" stroke-width="2.2"/>
<rect x="101.3" y="167.6" width="4.3" height="5" fill="#1a1a1a"/>
<rect x="25.65" y="162.75" width="82.9" height="143.3" fill="none" stroke="#111" stroke-width="2.5"/>
<text x="41.55 60.90" y="191.2" style="font-family:'Liberation Sans',sans-serif;font-size:17.5px;font-weight:normal" fill="#1a1a1a" stroke="#1a1a1a" stroke-width="0.5">盐箱</text>
<path d="M105.6,170 H134.8 V340.2 H256.1 V231" fill="none" stroke="#d69a68" stroke-width="1.25"/>
<clipPath id="c5a"><path d="M152.35,155.85 C152.35,145.93 164.83299999999997,139.85 185.2,139.85 C205.567,139.85 218.05,145.93 218.05,155.85 L218.05,295.15 C218.05,303.52 205.567,308.65 185.2,308.65 C164.83299999999997,308.65 152.35,303.52 152.35,295.15 Z"/></clipPath>
<g clip-path="url(#c5a)">
<rect x="149.0" y="134.85" width="72.4" height="178.79999999999998" fill="#e1137c"/>
<polygon points="149.0,134.85 221.4,134.85 221.4,254.30 219.40,254.30 207.20,256.80 198.40,253.00 192.40,257.10 188.70,254.30 183.60,256.80 176.70,253.00 168.40,255.70 161.90,252.80 151.00,253.90 149.0,253.90" fill="#c6be6a"/>
<polyline points="151.00,253.90 161.90,252.80 168.40,255.70 176.70,253.00 183.60,256.80 188.70,254.30 192.40,257.10 198.40,253.00 207.20,256.80 219.40,254.30" fill="none" stroke="#2a2a1e" stroke-width="1.05"/>
</g>
<path d="M152.35,155.85 C152.35,145.93 164.83299999999997,139.85 185.2,139.85 C205.567,139.85 218.05,145.93 218.05,155.85 L218.05,295.15 C218.05,303.52 205.567,308.65 185.2,308.65 C164.83299999999997,308.65 152.35,303.52 152.35,295.15 Z" fill="none" stroke="#111" stroke-width="2.7"/>
<path d="M218.05,295.15 C218.05,303.52 205.567,309.25 185.2,309.25 C164.83299999999997,309.25 152.35,303.52 152.35,295.15" fill="none" stroke="#111" stroke-width="1.2" transform="translate(0,0.7)"/>
<polygon points="168.20,166.20 173.40,179.40 170.90,179.40 170.90,193.20 165.50,193.20 165.50,179.40 163.00,179.40" fill="#fff" stroke="#1a1a1a" stroke-width="0.9" stroke-linejoin="miter"/>
<polygon points="200.20,166.20 205.40,179.40 202.90,179.40 202.90,193.20 197.50,193.20 197.50,179.40 195.00,179.40" fill="#fff" stroke="#1a1a1a" stroke-width="0.9" stroke-linejoin="miter"/>
<polygon points="168.20,263.00 173.40,276.20 170.90,276.20 170.90,290.00 165.50,290.00 165.50,276.20 163.00,276.20" fill="#fff" stroke="#1a1a1a" stroke-width="0.9" stroke-linejoin="miter"/>
<polygon points="200.20,263.00 205.40,276.20 202.90,276.20 202.90,290.00 197.50,290.00 197.50,276.20 195.00,276.20" fill="#fff" stroke="#1a1a1a" stroke-width="0.9" stroke-linejoin="miter"/>
<text x="167.23 186.62" y="221.5" style="font-family:'Liberation Sans',sans-serif;font-size:16.9px;font-weight:normal" fill="#1a1a1a" stroke="#1a1a1a" stroke-width="0.5">左罐</text>
<clipPath id="c5b"><path d="M309.85,155.85 C309.85,145.93 322.333,139.85 342.7,139.85 C363.06699999999995,139.85 375.54999999999995,145.93 375.54999999999995,155.85 L375.54999999999995,295.15 C375.54999999999995,303.52 363.06699999999995,308.65 342.7,308.65 C322.333,308.65 309.85,303.52 309.85,295.15 Z"/></clipPath>
<g clip-path="url(#c5b)">
<rect x="306.5" y="134.85" width="72.39999999999998" height="178.79999999999998" fill="#e1137c"/>
<polygon points="306.5,134.85 378.9,134.85 378.9,254.30 376.90,254.30 364.70,256.80 355.90,253.00 349.90,257.10 346.20,254.30 341.10,256.80 334.20,253.00 325.90,255.70 319.40,252.80 308.50,253.90 306.5,253.90" fill="#c6be6a"/>
<polyline points="308.50,253.90 319.40,252.80 325.90,255.70 334.20,253.00 341.10,256.80 346.20,254.30 349.90,257.10 355.90,253.00 364.70,256.80 376.90,254.30" fill="none" stroke="#2a2a1e" stroke-width="1.05"/>
</g>
<path d="M309.85,155.85 C309.85,145.93 322.333,139.85 342.7,139.85 C363.06699999999995,139.85 375.54999999999995,145.93 375.54999999999995,155.85 L375.54999999999995,295.15 C375.54999999999995,303.52 363.06699999999995,308.65 342.7,308.65 C322.333,308.65 309.85,303.52 309.85,295.15 Z" fill="none" stroke="#111" stroke-width="2.7"/>
<path d="M375.54999999999995,295.15 C375.54999999999995,303.52 363.06699999999995,309.25 342.7,309.25 C322.333,309.25 309.85,303.52 309.85,295.15" fill="none" stroke="#111" stroke-width="1.2" transform="translate(0,0.7)"/>
<polygon points="325.70,166.20 330.90,179.40 328.40,179.40 328.40,193.20 323.00,193.20 323.00,179.40 320.50,179.40" fill="#fff" stroke="#1a1a1a" stroke-width="0.9" stroke-linejoin="miter"/>
<polygon points="357.70,166.20 362.90,179.40 360.40,179.40 360.40,193.20 355.00,193.20 355.00,179.40 352.50,179.40" fill="#fff" stroke="#1a1a1a" stroke-width="0.9" stroke-linejoin="miter"/>
<polygon points="325.70,263.00 330.90,276.20 328.40,276.20 328.40,290.00 323.00,290.00 323.00,276.20 320.50,276.20" fill="#fff" stroke="#1a1a1a" stroke-width="0.9" stroke-linejoin="miter"/>
<polygon points="357.70,263.00 362.90,276.20 360.40,276.20 360.40,290.00 355.00,290.00 355.00,276.20 352.50,276.20" fill="#fff" stroke="#1a1a1a" stroke-width="0.9" stroke-linejoin="miter"/>
<text x="324.35 343.82" y="221.5" style="font-family:'Liberation Sans',sans-serif;font-size:16.9px;font-weight:normal" fill="#1a1a1a" stroke="#1a1a1a" stroke-width="0.5">右罐</text>
<path d="M185.2,140 V135.3 Q185.2,129.3 191.2,129.3 H240.6 Q246.6,129.3 246.6,135.3 V194" fill="none" stroke="#4e4e40" stroke-width="4.3" stroke-linejoin="round"/>
<path d="M185.2,140 V135.3 Q185.2,129.3 191.2,129.3 H240.6 Q246.6,129.3 246.6,135.3 V194" fill="none" stroke="#a0b96a" stroke-width="2.5" stroke-linejoin="round"/>
<path d="M343.6,140 V135.3 Q343.6,129.3 337.6,129.3 H288.8 Q282.8,129.3 282.8,135.3 V196" fill="none" stroke="#4e4e40" stroke-width="4.3" stroke-linejoin="round"/>
<path d="M343.6,140 V135.3 Q343.6,129.3 337.6,129.3 H288.8 Q282.8,129.3 282.8,135.3 V196" fill="none" stroke="#a0b96a" stroke-width="2.5" stroke-linejoin="round"/>
<path d="M185.2,308 V313.2 Q185.2,319.2 191.2,319.2 H240.6 Q246.6,319.2 246.6,313.2 V246" fill="none" stroke="#4e4e40" stroke-width="4.3" stroke-linejoin="round"/>
<path d="M185.2,308 V313.2 Q185.2,319.2 191.2,319.2 H240.6 Q246.6,319.2 246.6,313.2 V246" fill="none" stroke="#a0b96a" stroke-width="2.5" stroke-linejoin="round"/>
<path d="M343.6,308 V313.2 Q343.6,319.2 337.6,319.2 H288.8 Q282.8,319.2 282.8,313.2 V276" fill="none" stroke="#4e4e40" stroke-width="4.3" stroke-linejoin="round"/>
<path d="M343.6,308 V313.2 Q343.6,319.2 337.6,319.2 H288.8 Q282.8,319.2 282.8,313.2 V276" fill="none" stroke="#a0b96a" stroke-width="2.5" stroke-linejoin="round"/>
<line x1="255.7" y1="108.4" x2="255.7" y2="187" stroke="#2a0a1a" stroke-width="2.6"/>
<line x1="255.7" y1="108.9" x2="255.7" y2="186.5" stroke="#b0175f" stroke-width="1.6"/>
<polygon points="255.60,135.00 266.10,124.80 261.05,124.80 261.05,114.00 250.15,114.00 250.15,124.80 245.10,124.80" fill="#e1137c" stroke="#2a2a2a" stroke-width="0.7"/>
<text x="262.56 275.22" y="120.3" style="font-family:'Liberation Sans',sans-serif;font-size:11px;font-weight:bold" fill="#1a1a1a" >进水</text>
<line x1="261.1" y1="232" x2="261.1" y2="358" stroke="#54463f" stroke-width="3.4"/>
<line x1="275.1" y1="276" x2="275.1" y2="347.6" stroke="#1d4f70" stroke-width="3.6"/>
<line x1="275.1" y1="276" x2="275.1" y2="347.2" stroke="#1a90d8" stroke-width="2.2"/>
<rect x="243.9" y="179" width="5.6" height="15" fill="#46483a"/>
<rect x="245.3" y="179" width="2.8" height="15" fill="#a0b96a"/>
<rect x="248.6" y="179" width="2" height="7" fill="#2a2a2a"/>
<rect x="270" y="183.3" width="16" height="27" fill="#4f5357"/>
<rect x="280" y="180" width="5.6" height="16" fill="#46483a"/>
<rect x="281.4" y="180" width="2.8" height="16" fill="#a0b96a"/>
<path d="M236.8,190.5 Q236.8,187.6 239.5,187.6 H255 Q257.8,187.6 257.8,190.5 V193 Q256.5,194 256,196 L255,199.6 H239.6 L238.6,196 Q238,194 236.8,193 Z" fill="#ebc042" stroke="#a07e28" stroke-width="0.5"/>
<rect x="243.9" y="186" width="5.6" height="9" fill="#46483a"/>
<rect x="245.3" y="186" width="2.8" height="9" fill="#a0b96a"/>
<path d="M242.2,210 V197 Q242.2,194 245,194 H250 Q252.8,194 252.8,197 V210 Z" fill="#a4a6a8"/>
<rect x="240.6" y="201.8" width="13.6" height="6.2" fill="#a2a4a6"/>
<rect x="242.2" y="200.6" width="10.6" height="1.2" fill="#8a8c8e"/>
<rect x="242.2" y="208" width="10.6" height="2" fill="#a8aaac"/>
<path d="M278.3,210 V197.5 Q278.3,195 281,195 H285 Q287.6,195 287.6,197.5 V210 Z" fill="#a4a6a8"/>
<rect x="276.6" y="201.8" width="12.9" height="6.2" fill="#a2a4a6"/>
<rect x="278.3" y="200.6" width="9.3" height="1.2" fill="#8a8c8e"/>
<circle cx="260" cy="199.6" r="4.4" fill="#fff" stroke="#8a8a8a" stroke-width="0.9"/>
<line x1="258.2" y1="201.2" x2="261.5" y2="198" stroke="#444" stroke-width="0.7"/>
<rect x="258.6" y="204.2" width="2.6" height="2" fill="#d8b030"/>
<rect x="258.6" y="206.2" width="2.6" height="3.8" fill="#2f3c50"/>
<rect x="262" y="206" width="5.5" height="4.2" fill="#2a2d30"/>
<rect x="287" y="206" width="6.5" height="4.5" fill="#34393d"/>
<rect x="237.8" y="209.8" width="53.6" height="21.9" rx="2.5" fill="#34393d"/>
<rect x="235.2" y="215" width="3.5" height="11" rx="0.8" fill="#2e3337"/>
<rect x="290.6" y="215" width="3.7" height="11" rx="0.8" fill="#2e3337"/>
<rect x="244.9" y="214.6" width="39.3" height="12.7" rx="1.5" fill="#1f2326" stroke="#474d52" stroke-width="0.9"/>
<rect x="248.8" y="217.2" width="13.2" height="7.5" fill="#4c69a7"/>
<rect x="266.5" y="216.80" width="1.2" height="0.8" fill="#6a6e72"/>
<rect x="268.6" y="216.80" width="1.2" height="0.8" fill="#c06a3a"/>
<rect x="270.6" y="216.80" width="1.6" height="0.8" fill="#5a5e62"/>
<rect x="266.5" y="218.70" width="1.2" height="0.8" fill="#6a6e72"/>
<rect x="268.6" y="218.70" width="1.2" height="0.8" fill="#c06a3a"/>
<rect x="270.6" y="218.70" width="1.6" height="0.8" fill="#5a5e62"/>
<rect x="266.5" y="220.60" width="1.2" height="0.8" fill="#6a6e72"/>
<rect x="268.6" y="220.60" width="1.2" height="0.8" fill="#c06a3a"/>
<rect x="270.6" y="220.60" width="1.6" height="0.8" fill="#5a5e62"/>
<rect x="266.5" y="222.50" width="1.2" height="0.8" fill="#6a6e72"/>
<rect x="268.6" y="222.50" width="1.2" height="0.8" fill="#c06a3a"/>
<rect x="270.6" y="222.50" width="1.6" height="0.8" fill="#5a5e62"/>
<rect x="266.5" y="224.40" width="1.2" height="0.8" fill="#6a6e72"/>
<rect x="268.6" y="224.40" width="1.2" height="0.8" fill="#c06a3a"/>
<rect x="270.6" y="224.40" width="1.6" height="0.8" fill="#5a5e62"/>
<rect x="275.2" y="218.2" width="2.5" height="2" fill="#e8e8e8"/>
<rect x="274.4" y="221" width="2.6" height="2" fill="#e8e8e8"/>
<rect x="277.6" y="221" width="2.6" height="2" fill="#e8e8e8"/>
<rect x="274.4" y="223.8" width="5.8" height="2" fill="#e8e8e8"/>
<rect x="240.3" y="231.7" width="10.8" height="14.3" fill="#a2a4a6"/>
<rect x="238.2" y="234.5" width="14.6" height="7" fill="#9a9c9e"/>
<rect x="259.9" y="231.5" width="17" height="10.3" fill="#33383c"/>
<rect x="276.5" y="231" width="11.3" height="8" fill="#2d3235"/>
<rect x="265" y="232.8" width="9.6" height="4.2" fill="#8d9094"/>
<rect x="265" y="240" width="5" height="5" fill="#8d9094"/>
<path d="M272,243 Q272,237.5 277,237.5 H288 Q293,237.5 293,243 V252 Q293,256.5 289,256.5 V262 H276 V256.5 Q272,256.5 272,252 Z" fill="#2b3033"/>
<rect x="281.6" y="244" width="0.6" height="5" fill="#6a6e72"/>
<rect x="283.2" y="244" width="0.6" height="5" fill="#6a6e72"/>
<rect x="272.6" y="262" width="16" height="14.5" fill="#e6e6e2" stroke="#cfcfca" stroke-width="0.5"/>
<polygon points="246.40,171.60 254.30,162.80 250.40,162.80 250.40,152.80 242.40,152.80 242.40,162.80 238.50,162.80" fill="#0a92dc" stroke="#2a2a2a" stroke-width="0.7"/>
<polygon points="282.80,172.00 290.70,163.20 286.80,163.20 286.80,153.20 278.80,153.20 278.80,163.20 274.90,163.20" fill="#0a92dc" stroke="#2a2a2a" stroke-width="0.7"/>
<polygon points="246.40,312.80 254.30,304.00 250.40,304.00 250.40,294.00 242.40,294.00 242.40,304.00 238.50,304.00" fill="#e1137c" stroke="#2a2a2a" stroke-width="0.7"/>
<polygon points="282.90,313.40 290.80,304.60 286.90,304.60 286.90,294.60 278.90,294.60 278.90,304.60 275.00,304.60" fill="#e1137c" stroke="#2a2a2a" stroke-width="0.7"/>
<polygon points="275.00,344.10 285.75,333.20 280.50,333.20 280.50,323.10 269.50,323.10 269.50,333.20 264.25,333.20" fill="#0a92dc" stroke="#2a2a2a" stroke-width="0.7"/>
<text x="288.11 300.22" y="336.9" style="font-family:'Liberation Sans',sans-serif;font-size:11px;font-weight:bold" fill="#1a1a1a" >出水</text>
</g>
<text x="1.50 23.00 46.99 78.40 99.80 122.86 144.40 160.43 190.30 212.40 234.50 257.40 302.10 325.75 347.75 370.75" y="392.9" style="font-family:'Liberation Sans',sans-serif;font-size:19.8px;font-weight:bold" fill="#111" >工位：左罐出水；右罐再生起始工位</text>
<path d="M48.6,392.9 V379.2 M45.1,382.6 Q48,381.6 48.6,379.2" fill="none" stroke="#111" stroke-width="2.6"/>
<path d="M296.2,379.6 Q284.6,387.2 296.2,394.8" fill="none" stroke="#111" stroke-width="2.1"/>
<path d="M395.4,379.6 Q407,387.2 395.4,394.8" fill="none" stroke="#111" stroke-width="2.1"/>
<text x="485.60 507.60 525.41 531.29 562.80 584.30 606.91 629.50 644.78 674.60 696.40 718.40 741.10" y="393.4" style="font-family:'Liberation Sans',sans-serif;font-size:19.8px;font-weight:bold" fill="#111" >工位2：左罐出水；右罐清洗</text>
<text x="63.40 85.40 103.41 109.09 140.60 162.10 184.71 207.30 222.58 252.40 274.20 297.51 319.20" y="729.9" style="font-family:'Liberation Sans',sans-serif;font-size:19.8px;font-weight:bold" fill="#111" >工位3：左罐出水；右罐出水</text>
<text x="485.50 507.50 525.70 531.19 562.70 584.20 607.70 629.40 644.68 674.50 696.30 719.61 741.30" y="729.9" style="font-family:'Liberation Sans',sans-serif;font-size:19.8px;font-weight:bold" fill="#111" >工位4：左罐再生；右罐出水</text>
<text x="63.50 85.50 103.41 109.19 140.70 162.20 185.80 207.10 222.68 252.50 274.30 297.61 319.30" y="1077.4" style="font-family:'Liberation Sans',sans-serif;font-size:19.8px;font-weight:bold" fill="#111" >工位5：左罐清洗；右罐出水</text>
<text x="485.50 507.50 525.31 531.19 562.70 584.20 606.81 629.40 644.68 674.50 696.30 719.61 741.30" y="1076.9" style="font-family:'Liberation Sans',sans-serif;font-size:19.8px;font-weight:bold" fill="#111" >工位6：左罐出水；右罐出水</text>
</svg></body></html>
